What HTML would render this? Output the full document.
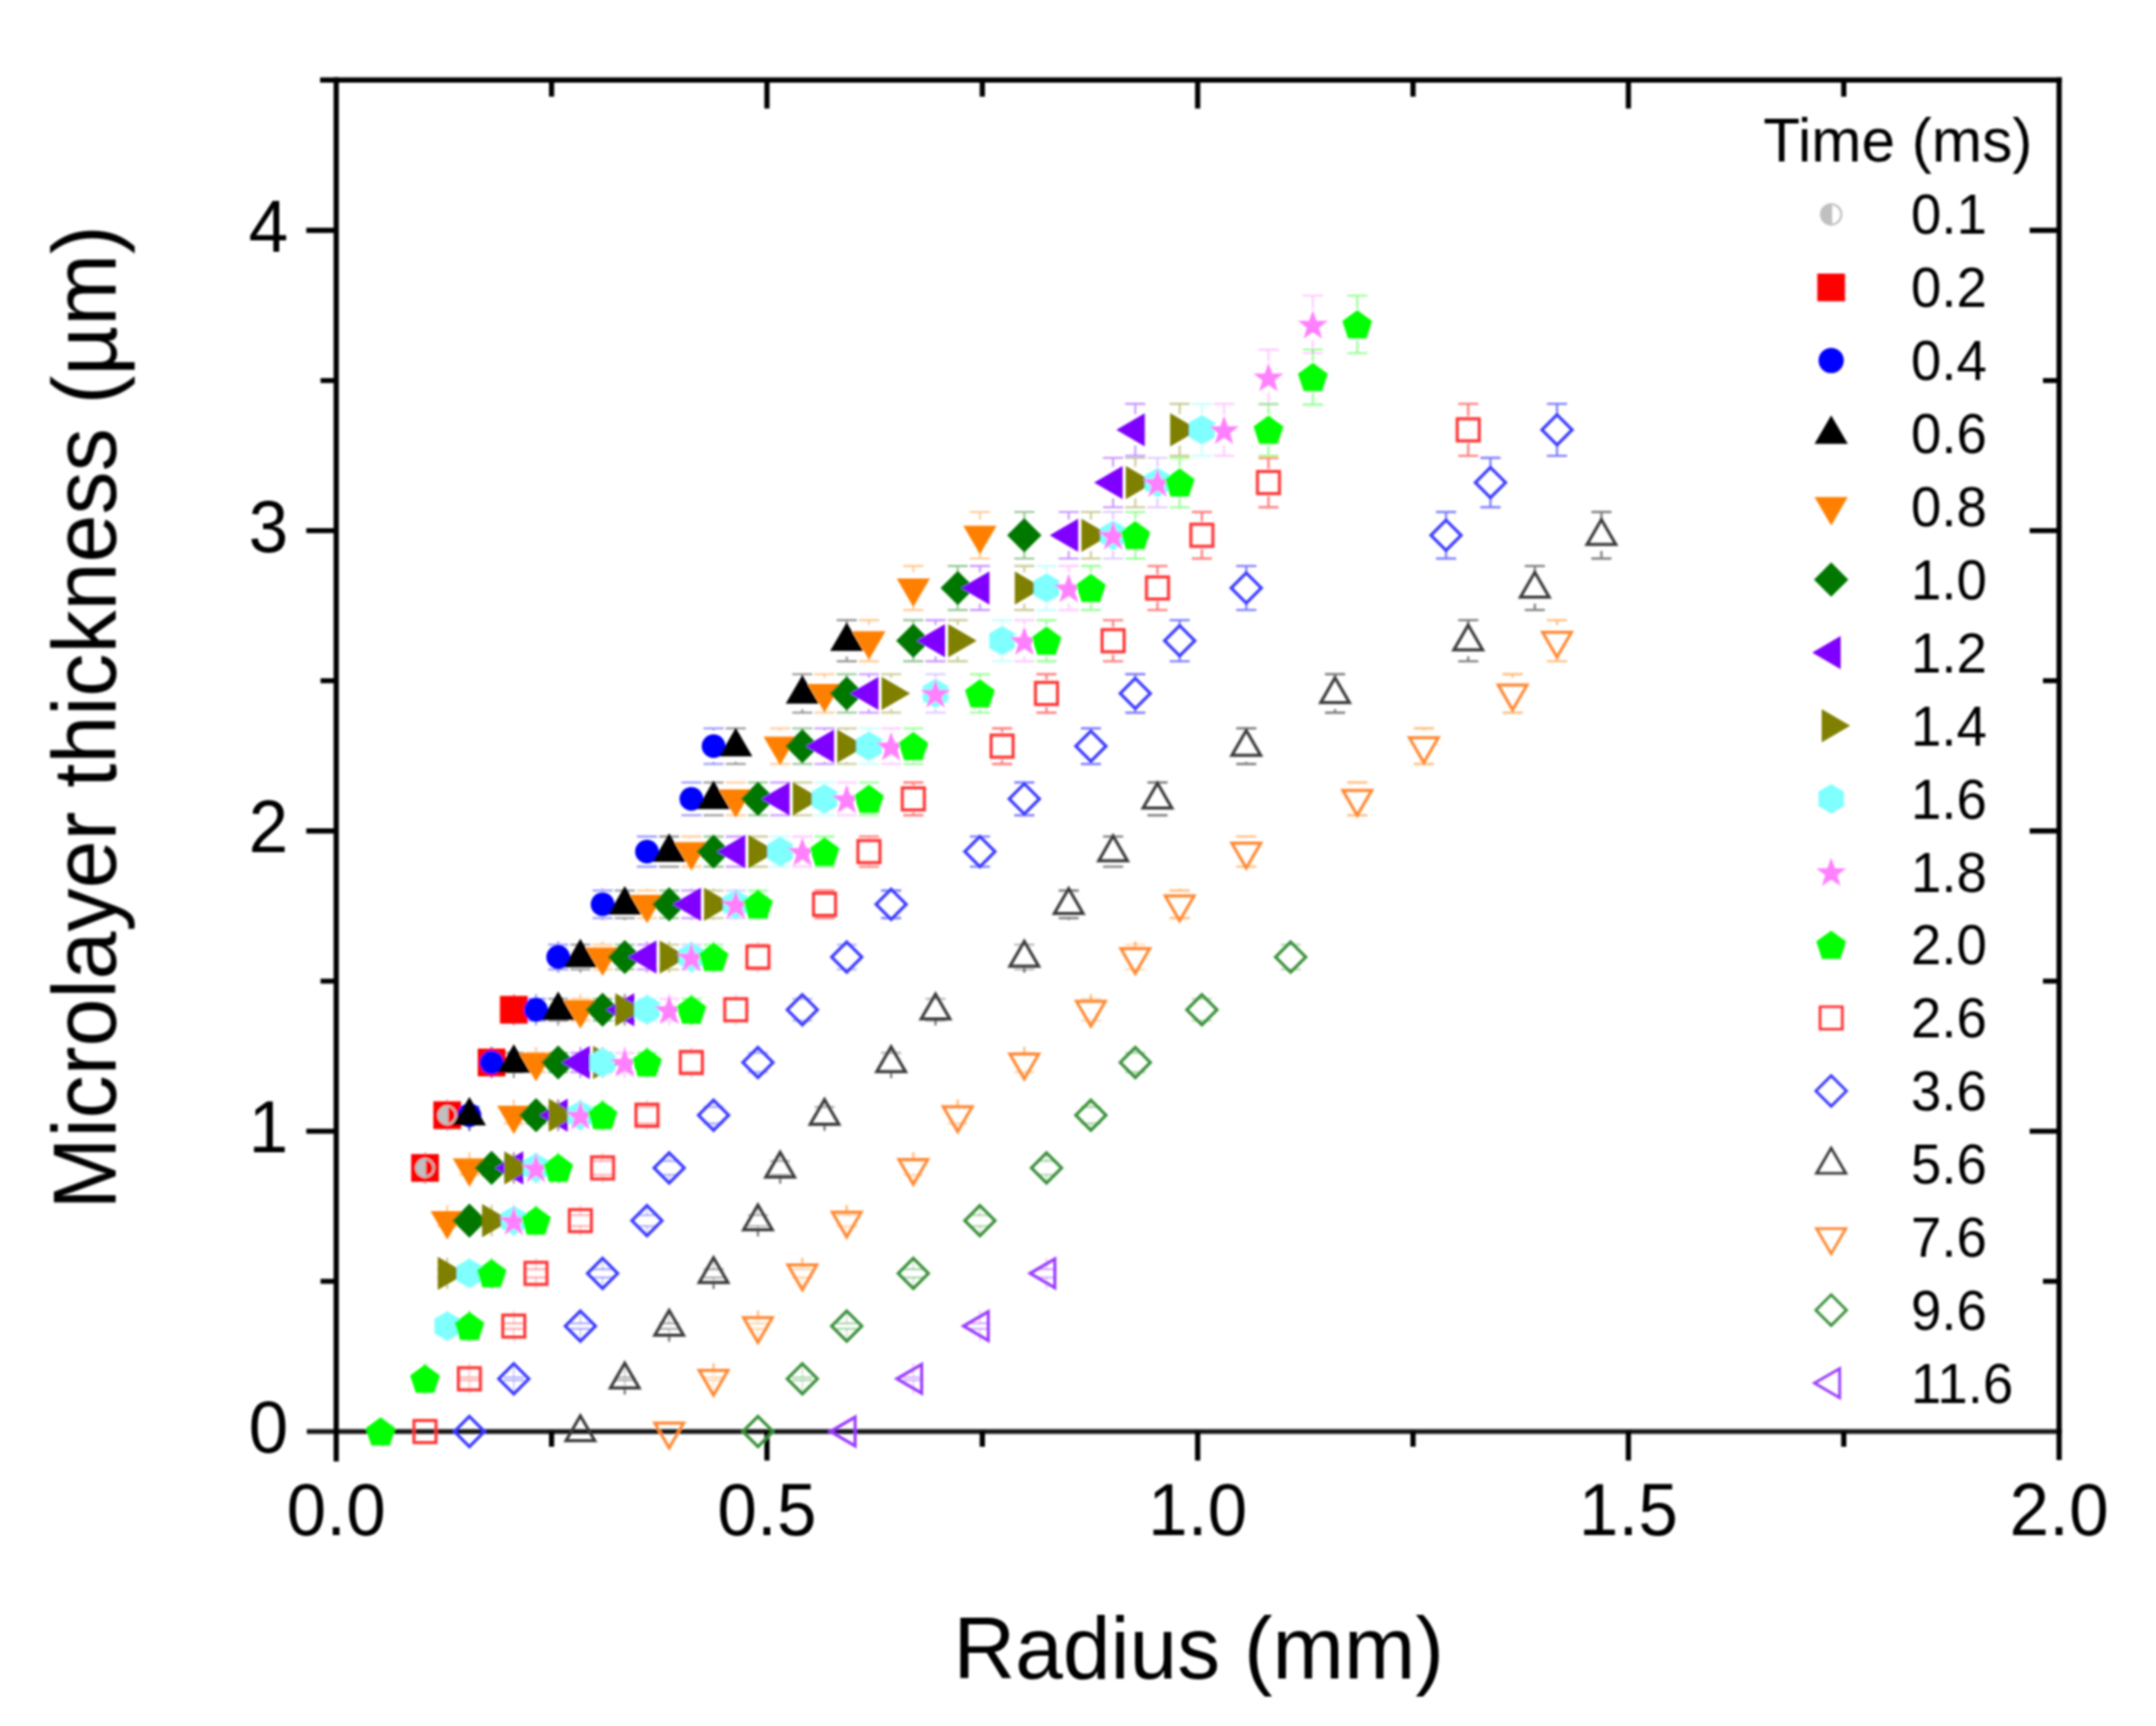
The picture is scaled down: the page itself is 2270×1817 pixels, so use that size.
<!DOCTYPE html>
<html lang="en"><head><meta charset="utf-8"><title>Microlayer thickness vs radius</title>
<style>html,body{margin:0;padding:0;background:#fff}svg{display:block}text{font-family:"Liberation Sans",sans-serif;fill:#000}</style></head><body>
<svg width="2270" height="1817" viewBox="0 0 2270 1817">
<defs><filter id="b" x="-2%" y="-2%" width="104%" height="104%"><feGaussianBlur stdDeviation="1.15"/></filter></defs>
<rect width="2270" height="1817" fill="#fff"/>
<g filter="url(#b)">
<g stroke="#000" fill="none" stroke-linecap="butt">
<path stroke-width="5.6" d="M337 84.2H2170.8"/>
<path stroke-width="5.2" stroke="#161616" d="M323 1507H2170.8"/>
<path stroke-width="5.5" d="M354 81.4V1538.5 M2168 81.4V1537"/>
<path stroke-width="5.5" d="M580.75 1507V1523 M580.75 84.2V101.7 M807.5 1507V1537.5 M807.5 84.2V114.2 M1034.25 1507V1523 M1034.25 84.2V101.7 M1261 1507V1537.5 M1261 84.2V114.2 M1487.75 1507V1523 M1487.75 84.2V101.7 M1714.5 1507V1537.5 M1714.5 84.2V114.2 M1941.25 1507V1523 M1941.25 84.2V101.7"/>
<path stroke-width="5.3" d="M354 1348.94H337.5 M2168 1348.94H2151 M354 1190.88H322.5 M2168 1190.88H2137 M354 1032.81H337.5 M2168 1032.81H2151 M354 874.75H322.5 M2168 874.75H2137 M354 716.69H337.5 M2168 716.69H2151 M354 558.62H322.5 M2168 558.62H2137 M354 400.56H337.5 M2168 400.56H2151 M354 242.5H322.5 M2168 242.5H2137"/>
</g>
<g font-size="75">
<text transform="translate(354 1616.5) scale(1 1.035)" text-anchor="middle">0.0</text>
<text transform="translate(807.5 1616.5) scale(1 1.035)" text-anchor="middle">0.5</text>
<text transform="translate(1261 1616.5) scale(1 1.035)" text-anchor="middle">1.0</text>
<text transform="translate(1714.5 1616.5) scale(1 1.035)" text-anchor="middle">1.5</text>
<text transform="translate(2168 1616.5) scale(1 1.035)" text-anchor="middle">2.0</text>
<text transform="translate(303.5 1529) scale(1 1.035)" text-anchor="end">0</text>
<text transform="translate(303.5 1212.88) scale(1 1.035)" text-anchor="end">1</text>
<text transform="translate(303.5 896.75) scale(1 1.035)" text-anchor="end">2</text>
<text transform="translate(303.5 580.62) scale(1 1.035)" text-anchor="end">3</text>
<text transform="translate(303.5 264.5) scale(1 1.035)" text-anchor="end">4</text>
</g>
<text transform="translate(1262 1766.8) scale(1 1.035)" font-size="90.3" text-anchor="middle">Radius (mm)</text>
<text transform="translate(121.7 755.2) rotate(-90) scale(1 1.035)" font-size="90.8" text-anchor="middle">Microlayer thickness (µm)</text>
<g><path d="M436.88 1222.29H458.08 M436.88 1236.71H458.08 M447.48 1213V1222.29 M447.48 1246V1236.71" stroke="#ff0000" stroke-width="2.1" stroke-opacity="0.42" fill="none"/><path d="M460.25 1165.34H481.45 M460.25 1182.66H481.45 M470.85 1157.5V1165.34 M470.85 1190.5V1182.66" stroke="#ff0000" stroke-width="2.1" stroke-opacity="0.42" fill="none"/><path d="M506.99 1108.4H528.19 M506.99 1128.6H528.19 M517.59 1102V1108.4 M517.59 1135V1128.6" stroke="#ff0000" stroke-width="2.1" stroke-opacity="0.42" fill="none"/><path d="M530.36 1051.46H551.56 M530.36 1074.54H551.56 M540.96 1046.5V1051.46 M540.96 1079.5V1074.54" stroke="#ff0000" stroke-width="2.1" stroke-opacity="0.42" fill="none"/><path d="M436.88 1222.29H458.08 M436.88 1236.71H458.08 M447.48 1213V1222.29 M447.48 1246V1236.71" stroke="#c0c0c0" stroke-width="2.1" stroke-opacity="0.42" fill="none"/><path d="M460.25 1165.34H481.45 M460.25 1182.66H481.45 M470.85 1157.5V1165.34 M470.85 1190.5V1182.66" stroke="#c0c0c0" stroke-width="2.1" stroke-opacity="0.42" fill="none"/><path d="M483.62 1165.34H504.82 M483.62 1182.66H504.82 M494.22 1157.5V1165.34 M494.22 1190.5V1182.66" stroke="#0000ff" stroke-width="2.1" stroke-opacity="0.42" fill="none"/><path d="M506.99 1108.4H528.19 M506.99 1128.6H528.19 M517.59 1102V1108.4 M517.59 1135V1128.6" stroke="#0000ff" stroke-width="2.1" stroke-opacity="0.42" fill="none"/><path d="M553.73 1051.46H574.93 M553.73 1074.54H574.93 M564.33 1046.5V1051.46 M564.33 1079.5V1074.54" stroke="#0000ff" stroke-width="2.1" stroke-opacity="0.42" fill="none"/><path d="M577.1 994.51H598.3 M577.1 1020.49H598.3 M587.7 991V994.51 M587.7 1024V1020.49" stroke="#0000ff" stroke-width="2.1" stroke-opacity="0.42" fill="none"/><path d="M623.84 937.57H645.04 M623.84 966.43H645.04 M634.44 935.5V937.57 M634.44 968.5V966.43" stroke="#0000ff" stroke-width="2.1" stroke-opacity="0.42" fill="none"/><path d="M670.58 880.63H691.78 M670.58 912.37H691.78 M681.18 880V880.63 M681.18 913V912.37" stroke="#0000ff" stroke-width="2.1" stroke-opacity="0.42" fill="none"/><path d="M717.32 823.68H738.52 M717.32 858.32H738.52 M727.92 824.5V823.68 M727.92 857.5V858.32" stroke="#0000ff" stroke-width="2.1" stroke-opacity="0.42" fill="none"/><path d="M740.69 766.74H761.89 M740.69 804.26H761.89 M751.29 769V766.74 M751.29 802V804.26" stroke="#0000ff" stroke-width="2.1" stroke-opacity="0.42" fill="none"/><path d="M483.62 1165.34H504.82 M483.62 1182.66H504.82 M494.22 1157.5V1165.34 M494.22 1190.5V1182.66" stroke="#000000" stroke-width="2.1" stroke-opacity="0.42" fill="none"/><path d="M530.36 1108.4H551.56 M530.36 1128.6H551.56 M540.96 1102V1108.4 M540.96 1135V1128.6" stroke="#000000" stroke-width="2.1" stroke-opacity="0.42" fill="none"/><path d="M577.1 1051.46H598.3 M577.1 1074.54H598.3 M587.7 1046.5V1051.46 M587.7 1079.5V1074.54" stroke="#000000" stroke-width="2.1" stroke-opacity="0.42" fill="none"/><path d="M600.47 994.51H621.67 M600.47 1020.49H621.67 M611.07 991V994.51 M611.07 1024V1020.49" stroke="#000000" stroke-width="2.1" stroke-opacity="0.42" fill="none"/><path d="M647.21 937.57H668.41 M647.21 966.43H668.41 M657.81 935.5V937.57 M657.81 968.5V966.43" stroke="#000000" stroke-width="2.1" stroke-opacity="0.42" fill="none"/><path d="M693.95 880.63H715.15 M693.95 912.37H715.15 M704.55 880V880.63 M704.55 913V912.37" stroke="#000000" stroke-width="2.1" stroke-opacity="0.42" fill="none"/><path d="M740.69 823.68H761.89 M740.69 858.32H761.89 M751.29 824.5V823.68 M751.29 857.5V858.32" stroke="#000000" stroke-width="2.1" stroke-opacity="0.42" fill="none"/><path d="M764.06 766.74H785.26 M764.06 804.26H785.26 M774.66 769V766.74 M774.66 802V804.26" stroke="#000000" stroke-width="2.1" stroke-opacity="0.42" fill="none"/><path d="M834.17 709.8H855.37 M834.17 750.2H855.37 M844.77 713.5V709.8 M844.77 746.5V750.2" stroke="#000000" stroke-width="2.1" stroke-opacity="0.42" fill="none"/><path d="M880.91 652.86H902.11 M880.91 696.14H902.11 M891.51 658V652.86 M891.51 691V696.14" stroke="#000000" stroke-width="2.1" stroke-opacity="0.42" fill="none"/><path d="M460.25 1279.23H481.45 M460.25 1290.77H481.45 M470.85 1268.5V1279.23 M470.85 1301.5V1290.77" stroke="#ff8000" stroke-width="2.1" stroke-opacity="0.42" fill="none"/><path d="M483.62 1222.29H504.82 M483.62 1236.71H504.82 M494.22 1213V1222.29 M494.22 1246V1236.71" stroke="#ff8000" stroke-width="2.1" stroke-opacity="0.42" fill="none"/><path d="M530.36 1165.34H551.56 M530.36 1182.66H551.56 M540.96 1157.5V1165.34 M540.96 1190.5V1182.66" stroke="#ff8000" stroke-width="2.1" stroke-opacity="0.42" fill="none"/><path d="M553.73 1108.4H574.93 M553.73 1128.6H574.93 M564.33 1102V1108.4 M564.33 1135V1128.6" stroke="#ff8000" stroke-width="2.1" stroke-opacity="0.42" fill="none"/><path d="M600.47 1051.46H621.67 M600.47 1074.54H621.67 M611.07 1046.5V1051.46 M611.07 1079.5V1074.54" stroke="#ff8000" stroke-width="2.1" stroke-opacity="0.42" fill="none"/><path d="M623.84 994.51H645.04 M623.84 1020.49H645.04 M634.44 991V994.51 M634.44 1024V1020.49" stroke="#ff8000" stroke-width="2.1" stroke-opacity="0.42" fill="none"/><path d="M670.58 937.57H691.78 M670.58 966.43H691.78 M681.18 935.5V937.57 M681.18 968.5V966.43" stroke="#ff8000" stroke-width="2.1" stroke-opacity="0.42" fill="none"/><path d="M717.32 880.63H738.52 M717.32 912.37H738.52 M727.92 880V880.63 M727.92 913V912.37" stroke="#ff8000" stroke-width="2.1" stroke-opacity="0.42" fill="none"/><path d="M764.06 823.68H785.26 M764.06 858.32H785.26 M774.66 824.5V823.68 M774.66 857.5V858.32" stroke="#ff8000" stroke-width="2.1" stroke-opacity="0.42" fill="none"/><path d="M810.8 766.74H832 M810.8 804.26H832 M821.4 769V766.74 M821.4 802V804.26" stroke="#ff8000" stroke-width="2.1" stroke-opacity="0.42" fill="none"/><path d="M857.54 709.8H878.74 M857.54 750.2H878.74 M868.14 713.5V709.8 M868.14 746.5V750.2" stroke="#ff8000" stroke-width="2.1" stroke-opacity="0.42" fill="none"/><path d="M904.28 652.86H925.48 M904.28 696.14H925.48 M914.88 658V652.86 M914.88 691V696.14" stroke="#ff8000" stroke-width="2.1" stroke-opacity="0.42" fill="none"/><path d="M951.02 595.91H972.22 M951.02 642.09H972.22 M961.62 602.5V595.91 M961.62 635.5V642.09" stroke="#ff8000" stroke-width="2.1" stroke-opacity="0.42" fill="none"/><path d="M1021.13 538.97H1042.33 M1021.13 588.03H1042.33 M1031.73 547V538.97 M1031.73 580V588.03" stroke="#ff8000" stroke-width="2.1" stroke-opacity="0.42" fill="none"/><path d="M483.62 1279.23H504.82 M483.62 1290.77H504.82 M494.22 1268.5V1279.23 M494.22 1301.5V1290.77" stroke="#007800" stroke-width="2.1" stroke-opacity="0.42" fill="none"/><path d="M506.99 1222.29H528.19 M506.99 1236.71H528.19 M517.59 1213V1222.29 M517.59 1246V1236.71" stroke="#007800" stroke-width="2.1" stroke-opacity="0.42" fill="none"/><path d="M553.73 1165.34H574.93 M553.73 1182.66H574.93 M564.33 1157.5V1165.34 M564.33 1190.5V1182.66" stroke="#007800" stroke-width="2.1" stroke-opacity="0.42" fill="none"/><path d="M577.1 1108.4H598.3 M577.1 1128.6H598.3 M587.7 1102V1108.4 M587.7 1135V1128.6" stroke="#007800" stroke-width="2.1" stroke-opacity="0.42" fill="none"/><path d="M623.84 1051.46H645.04 M623.84 1074.54H645.04 M634.44 1046.5V1051.46 M634.44 1079.5V1074.54" stroke="#007800" stroke-width="2.1" stroke-opacity="0.42" fill="none"/><path d="M647.21 994.51H668.41 M647.21 1020.49H668.41 M657.81 991V994.51 M657.81 1024V1020.49" stroke="#007800" stroke-width="2.1" stroke-opacity="0.42" fill="none"/><path d="M693.95 937.57H715.15 M693.95 966.43H715.15 M704.55 935.5V937.57 M704.55 968.5V966.43" stroke="#007800" stroke-width="2.1" stroke-opacity="0.42" fill="none"/><path d="M740.69 880.63H761.89 M740.69 912.37H761.89 M751.29 880V880.63 M751.29 913V912.37" stroke="#007800" stroke-width="2.1" stroke-opacity="0.42" fill="none"/><path d="M787.43 823.68H808.63 M787.43 858.32H808.63 M798.03 824.5V823.68 M798.03 857.5V858.32" stroke="#007800" stroke-width="2.1" stroke-opacity="0.42" fill="none"/><path d="M834.17 766.74H855.37 M834.17 804.26H855.37 M844.77 769V766.74 M844.77 802V804.26" stroke="#007800" stroke-width="2.1" stroke-opacity="0.42" fill="none"/><path d="M880.91 709.8H902.11 M880.91 750.2H902.11 M891.51 713.5V709.8 M891.51 746.5V750.2" stroke="#007800" stroke-width="2.1" stroke-opacity="0.42" fill="none"/><path d="M951.02 652.86H972.22 M951.02 696.14H972.22 M961.62 658V652.86 M961.62 691V696.14" stroke="#007800" stroke-width="2.1" stroke-opacity="0.42" fill="none"/><path d="M997.76 595.91H1018.96 M997.76 642.09H1018.96 M1008.36 602.5V595.91 M1008.36 635.5V642.09" stroke="#007800" stroke-width="2.1" stroke-opacity="0.42" fill="none"/><path d="M1067.87 538.97H1089.07 M1067.87 588.03H1089.07 M1078.47 547V538.97 M1078.47 580V588.03" stroke="#007800" stroke-width="2.1" stroke-opacity="0.42" fill="none"/><path d="M530.36 1222.29H551.56 M530.36 1236.71H551.56 M540.96 1213V1222.29 M540.96 1246V1236.71" stroke="#8000ff" stroke-width="2.1" stroke-opacity="0.42" fill="none"/><path d="M577.1 1165.34H598.3 M577.1 1182.66H598.3 M587.7 1157.5V1165.34 M587.7 1190.5V1182.66" stroke="#8000ff" stroke-width="2.1" stroke-opacity="0.42" fill="none"/><path d="M600.47 1108.4H621.67 M600.47 1128.6H621.67 M611.07 1102V1108.4 M611.07 1135V1128.6" stroke="#8000ff" stroke-width="2.1" stroke-opacity="0.42" fill="none"/><path d="M647.21 1051.46H668.41 M647.21 1074.54H668.41 M657.81 1046.5V1051.46 M657.81 1079.5V1074.54" stroke="#8000ff" stroke-width="2.1" stroke-opacity="0.42" fill="none"/><path d="M670.58 994.51H691.78 M670.58 1020.49H691.78 M681.18 991V994.51 M681.18 1024V1020.49" stroke="#8000ff" stroke-width="2.1" stroke-opacity="0.42" fill="none"/><path d="M717.32 937.57H738.52 M717.32 966.43H738.52 M727.92 935.5V937.57 M727.92 968.5V966.43" stroke="#8000ff" stroke-width="2.1" stroke-opacity="0.42" fill="none"/><path d="M764.06 880.63H785.26 M764.06 912.37H785.26 M774.66 880V880.63 M774.66 913V912.37" stroke="#8000ff" stroke-width="2.1" stroke-opacity="0.42" fill="none"/><path d="M810.8 823.68H832 M810.8 858.32H832 M821.4 824.5V823.68 M821.4 857.5V858.32" stroke="#8000ff" stroke-width="2.1" stroke-opacity="0.42" fill="none"/><path d="M857.54 766.74H878.74 M857.54 804.26H878.74 M868.14 769V766.74 M868.14 802V804.26" stroke="#8000ff" stroke-width="2.1" stroke-opacity="0.42" fill="none"/><path d="M904.28 709.8H925.48 M904.28 750.2H925.48 M914.88 713.5V709.8 M914.88 746.5V750.2" stroke="#8000ff" stroke-width="2.1" stroke-opacity="0.42" fill="none"/><path d="M974.39 652.86H995.59 M974.39 696.14H995.59 M984.99 658V652.86 M984.99 691V696.14" stroke="#8000ff" stroke-width="2.1" stroke-opacity="0.42" fill="none"/><path d="M1021.13 595.91H1042.33 M1021.13 642.09H1042.33 M1031.73 602.5V595.91 M1031.73 635.5V642.09" stroke="#8000ff" stroke-width="2.1" stroke-opacity="0.42" fill="none"/><path d="M1114.61 538.97H1135.81 M1114.61 588.03H1135.81 M1125.21 547V538.97 M1125.21 580V588.03" stroke="#8000ff" stroke-width="2.1" stroke-opacity="0.42" fill="none"/><path d="M1161.35 482.03H1182.55 M1161.35 533.97H1182.55 M1171.95 491.5V482.03 M1171.95 524.5V533.97" stroke="#8000ff" stroke-width="2.1" stroke-opacity="0.42" fill="none"/><path d="M1184.72 425.08H1205.92 M1184.72 479.92H1205.92 M1195.32 436V425.08 M1195.32 469V479.92" stroke="#8000ff" stroke-width="2.1" stroke-opacity="0.42" fill="none"/><path d="M460.25 1336.17H481.45 M460.25 1344.83H481.45 M470.85 1324V1336.17 M470.85 1357V1344.83" stroke="#808000" stroke-width="2.1" stroke-opacity="0.42" fill="none"/><path d="M506.99 1279.23H528.19 M506.99 1290.77H528.19 M517.59 1268.5V1279.23 M517.59 1301.5V1290.77" stroke="#808000" stroke-width="2.1" stroke-opacity="0.42" fill="none"/><path d="M530.36 1222.29H551.56 M530.36 1236.71H551.56 M540.96 1213V1222.29 M540.96 1246V1236.71" stroke="#808000" stroke-width="2.1" stroke-opacity="0.42" fill="none"/><path d="M577.1 1165.34H598.3 M577.1 1182.66H598.3 M587.7 1157.5V1165.34 M587.7 1190.5V1182.66" stroke="#808000" stroke-width="2.1" stroke-opacity="0.42" fill="none"/><path d="M623.84 1108.4H645.04 M623.84 1128.6H645.04 M634.44 1102V1108.4 M634.44 1135V1128.6" stroke="#808000" stroke-width="2.1" stroke-opacity="0.42" fill="none"/><path d="M647.21 1051.46H668.41 M647.21 1074.54H668.41 M657.81 1046.5V1051.46 M657.81 1079.5V1074.54" stroke="#808000" stroke-width="2.1" stroke-opacity="0.42" fill="none"/><path d="M693.95 994.51H715.15 M693.95 1020.49H715.15 M704.55 991V994.51 M704.55 1024V1020.49" stroke="#808000" stroke-width="2.1" stroke-opacity="0.42" fill="none"/><path d="M740.69 937.57H761.89 M740.69 966.43H761.89 M751.29 935.5V937.57 M751.29 968.5V966.43" stroke="#808000" stroke-width="2.1" stroke-opacity="0.42" fill="none"/><path d="M787.43 880.63H808.63 M787.43 912.37H808.63 M798.03 880V880.63 M798.03 913V912.37" stroke="#808000" stroke-width="2.1" stroke-opacity="0.42" fill="none"/><path d="M834.17 823.68H855.37 M834.17 858.32H855.37 M844.77 824.5V823.68 M844.77 857.5V858.32" stroke="#808000" stroke-width="2.1" stroke-opacity="0.42" fill="none"/><path d="M880.91 766.74H902.11 M880.91 804.26H902.11 M891.51 769V766.74 M891.51 802V804.26" stroke="#808000" stroke-width="2.1" stroke-opacity="0.42" fill="none"/><path d="M927.65 709.8H948.85 M927.65 750.2H948.85 M938.25 713.5V709.8 M938.25 746.5V750.2" stroke="#808000" stroke-width="2.1" stroke-opacity="0.42" fill="none"/><path d="M997.76 652.86H1018.96 M997.76 696.14H1018.96 M1008.36 658V652.86 M1008.36 691V696.14" stroke="#808000" stroke-width="2.1" stroke-opacity="0.42" fill="none"/><path d="M1067.87 595.91H1089.07 M1067.87 642.09H1089.07 M1078.47 602.5V595.91 M1078.47 635.5V642.09" stroke="#808000" stroke-width="2.1" stroke-opacity="0.42" fill="none"/><path d="M1137.98 538.97H1159.18 M1137.98 588.03H1159.18 M1148.58 547V538.97 M1148.58 580V588.03" stroke="#808000" stroke-width="2.1" stroke-opacity="0.42" fill="none"/><path d="M1184.72 482.03H1205.92 M1184.72 533.97H1205.92 M1195.32 491.5V482.03 M1195.32 524.5V533.97" stroke="#808000" stroke-width="2.1" stroke-opacity="0.42" fill="none"/><path d="M1231.46 425.08H1252.66 M1231.46 479.92H1252.66 M1242.06 436V425.08 M1242.06 469V479.92" stroke="#808000" stroke-width="2.1" stroke-opacity="0.42" fill="none"/><path d="M460.25 1393.11H481.45 M460.25 1398.89H481.45 M470.85 1379.5V1393.11 M470.85 1412.5V1398.89" stroke="#80ffff" stroke-width="2.1" stroke-opacity="0.42" fill="none"/><path d="M483.62 1336.17H504.82 M483.62 1344.83H504.82 M494.22 1324V1336.17 M494.22 1357V1344.83" stroke="#80ffff" stroke-width="2.1" stroke-opacity="0.42" fill="none"/><path d="M530.36 1279.23H551.56 M530.36 1290.77H551.56 M540.96 1268.5V1279.23 M540.96 1301.5V1290.77" stroke="#80ffff" stroke-width="2.1" stroke-opacity="0.42" fill="none"/><path d="M553.73 1222.29H574.93 M553.73 1236.71H574.93 M564.33 1213V1222.29 M564.33 1246V1236.71" stroke="#80ffff" stroke-width="2.1" stroke-opacity="0.42" fill="none"/><path d="M600.47 1165.34H621.67 M600.47 1182.66H621.67 M611.07 1157.5V1165.34 M611.07 1190.5V1182.66" stroke="#80ffff" stroke-width="2.1" stroke-opacity="0.42" fill="none"/><path d="M623.84 1108.4H645.04 M623.84 1128.6H645.04 M634.44 1102V1108.4 M634.44 1135V1128.6" stroke="#80ffff" stroke-width="2.1" stroke-opacity="0.42" fill="none"/><path d="M670.58 1051.46H691.78 M670.58 1074.54H691.78 M681.18 1046.5V1051.46 M681.18 1079.5V1074.54" stroke="#80ffff" stroke-width="2.1" stroke-opacity="0.42" fill="none"/><path d="M717.32 994.51H738.52 M717.32 1020.49H738.52 M727.92 991V994.51 M727.92 1024V1020.49" stroke="#80ffff" stroke-width="2.1" stroke-opacity="0.42" fill="none"/><path d="M764.06 937.57H785.26 M764.06 966.43H785.26 M774.66 935.5V937.57 M774.66 968.5V966.43" stroke="#80ffff" stroke-width="2.1" stroke-opacity="0.42" fill="none"/><path d="M810.8 880.63H832 M810.8 912.37H832 M821.4 880V880.63 M821.4 913V912.37" stroke="#80ffff" stroke-width="2.1" stroke-opacity="0.42" fill="none"/><path d="M857.54 823.68H878.74 M857.54 858.32H878.74 M868.14 824.5V823.68 M868.14 857.5V858.32" stroke="#80ffff" stroke-width="2.1" stroke-opacity="0.42" fill="none"/><path d="M904.28 766.74H925.48 M904.28 804.26H925.48 M914.88 769V766.74 M914.88 802V804.26" stroke="#80ffff" stroke-width="2.1" stroke-opacity="0.42" fill="none"/><path d="M974.39 709.8H995.59 M974.39 750.2H995.59 M984.99 713.5V709.8 M984.99 746.5V750.2" stroke="#80ffff" stroke-width="2.1" stroke-opacity="0.42" fill="none"/><path d="M1044.5 652.86H1065.7 M1044.5 696.14H1065.7 M1055.1 658V652.86 M1055.1 691V696.14" stroke="#80ffff" stroke-width="2.1" stroke-opacity="0.42" fill="none"/><path d="M1091.24 595.91H1112.44 M1091.24 642.09H1112.44 M1101.84 602.5V595.91 M1101.84 635.5V642.09" stroke="#80ffff" stroke-width="2.1" stroke-opacity="0.42" fill="none"/><path d="M1161.35 538.97H1182.55 M1161.35 588.03H1182.55 M1171.95 547V538.97 M1171.95 580V588.03" stroke="#80ffff" stroke-width="2.1" stroke-opacity="0.42" fill="none"/><path d="M1208.09 482.03H1229.29 M1208.09 533.97H1229.29 M1218.69 491.5V482.03 M1218.69 524.5V533.97" stroke="#80ffff" stroke-width="2.1" stroke-opacity="0.42" fill="none"/><path d="M1254.83 425.08H1276.03 M1254.83 479.92H1276.03 M1265.43 436V425.08 M1265.43 469V479.92" stroke="#80ffff" stroke-width="2.1" stroke-opacity="0.42" fill="none"/><path d="M530.36 1279.23H551.56 M530.36 1290.77H551.56 M540.96 1268.5V1279.23 M540.96 1301.5V1290.77" stroke="#ff80ff" stroke-width="2.1" stroke-opacity="0.42" fill="none"/><path d="M553.73 1222.29H574.93 M553.73 1236.71H574.93 M564.33 1213V1222.29 M564.33 1246V1236.71" stroke="#ff80ff" stroke-width="2.1" stroke-opacity="0.42" fill="none"/><path d="M600.47 1165.34H621.67 M600.47 1182.66H621.67 M611.07 1157.5V1165.34 M611.07 1190.5V1182.66" stroke="#ff80ff" stroke-width="2.1" stroke-opacity="0.42" fill="none"/><path d="M647.21 1108.4H668.41 M647.21 1128.6H668.41 M657.81 1102V1108.4 M657.81 1135V1128.6" stroke="#ff80ff" stroke-width="2.1" stroke-opacity="0.42" fill="none"/><path d="M693.95 1051.46H715.15 M693.95 1074.54H715.15 M704.55 1046.5V1051.46 M704.55 1079.5V1074.54" stroke="#ff80ff" stroke-width="2.1" stroke-opacity="0.42" fill="none"/><path d="M717.32 994.51H738.52 M717.32 1020.49H738.52 M727.92 991V994.51 M727.92 1024V1020.49" stroke="#ff80ff" stroke-width="2.1" stroke-opacity="0.42" fill="none"/><path d="M764.06 937.57H785.26 M764.06 966.43H785.26 M774.66 935.5V937.57 M774.66 968.5V966.43" stroke="#ff80ff" stroke-width="2.1" stroke-opacity="0.42" fill="none"/><path d="M834.17 880.63H855.37 M834.17 912.37H855.37 M844.77 880V880.63 M844.77 913V912.37" stroke="#ff80ff" stroke-width="2.1" stroke-opacity="0.42" fill="none"/><path d="M880.91 823.68H902.11 M880.91 858.32H902.11 M891.51 824.5V823.68 M891.51 857.5V858.32" stroke="#ff80ff" stroke-width="2.1" stroke-opacity="0.42" fill="none"/><path d="M927.65 766.74H948.85 M927.65 804.26H948.85 M938.25 769V766.74 M938.25 802V804.26" stroke="#ff80ff" stroke-width="2.1" stroke-opacity="0.42" fill="none"/><path d="M974.39 709.8H995.59 M974.39 750.2H995.59 M984.99 713.5V709.8 M984.99 746.5V750.2" stroke="#ff80ff" stroke-width="2.1" stroke-opacity="0.42" fill="none"/><path d="M1067.87 652.86H1089.07 M1067.87 696.14H1089.07 M1078.47 658V652.86 M1078.47 691V696.14" stroke="#ff80ff" stroke-width="2.1" stroke-opacity="0.42" fill="none"/><path d="M1114.61 595.91H1135.81 M1114.61 642.09H1135.81 M1125.21 602.5V595.91 M1125.21 635.5V642.09" stroke="#ff80ff" stroke-width="2.1" stroke-opacity="0.42" fill="none"/><path d="M1161.35 538.97H1182.55 M1161.35 588.03H1182.55 M1171.95 547V538.97 M1171.95 580V588.03" stroke="#ff80ff" stroke-width="2.1" stroke-opacity="0.42" fill="none"/><path d="M1208.09 482.03H1229.29 M1208.09 533.97H1229.29 M1218.69 491.5V482.03 M1218.69 524.5V533.97" stroke="#ff80ff" stroke-width="2.1" stroke-opacity="0.42" fill="none"/><path d="M1278.2 425.08H1299.4 M1278.2 479.92H1299.4 M1288.8 436V425.08 M1288.8 469V479.92" stroke="#ff80ff" stroke-width="2.1" stroke-opacity="0.42" fill="none"/><path d="M1324.94 368.14H1346.14 M1324.94 425.86H1346.14 M1335.54 380.5V368.14 M1335.54 413.5V425.86" stroke="#ff80ff" stroke-width="2.1" stroke-opacity="0.42" fill="none"/><path d="M1371.68 311.2H1392.88 M1371.68 371.8H1392.88 M1382.28 325V311.2 M1382.28 358V371.8" stroke="#ff80ff" stroke-width="2.1" stroke-opacity="0.42" fill="none"/><path d="M436.88 1450.06H458.08 M436.88 1452.94H458.08 M447.48 1435V1450.06 M447.48 1468V1452.94" stroke="#00ff00" stroke-width="2.1" stroke-opacity="0.42" fill="none"/><path d="M483.62 1393.11H504.82 M483.62 1398.89H504.82 M494.22 1379.5V1393.11 M494.22 1412.5V1398.89" stroke="#00ff00" stroke-width="2.1" stroke-opacity="0.42" fill="none"/><path d="M506.99 1336.17H528.19 M506.99 1344.83H528.19 M517.59 1324V1336.17 M517.59 1357V1344.83" stroke="#00ff00" stroke-width="2.1" stroke-opacity="0.42" fill="none"/><path d="M553.73 1279.23H574.93 M553.73 1290.77H574.93 M564.33 1268.5V1279.23 M564.33 1301.5V1290.77" stroke="#00ff00" stroke-width="2.1" stroke-opacity="0.42" fill="none"/><path d="M577.1 1222.29H598.3 M577.1 1236.71H598.3 M587.7 1213V1222.29 M587.7 1246V1236.71" stroke="#00ff00" stroke-width="2.1" stroke-opacity="0.42" fill="none"/><path d="M623.84 1165.34H645.04 M623.84 1182.66H645.04 M634.44 1157.5V1165.34 M634.44 1190.5V1182.66" stroke="#00ff00" stroke-width="2.1" stroke-opacity="0.42" fill="none"/><path d="M670.58 1108.4H691.78 M670.58 1128.6H691.78 M681.18 1102V1108.4 M681.18 1135V1128.6" stroke="#00ff00" stroke-width="2.1" stroke-opacity="0.42" fill="none"/><path d="M717.32 1051.46H738.52 M717.32 1074.54H738.52 M727.92 1046.5V1051.46 M727.92 1079.5V1074.54" stroke="#00ff00" stroke-width="2.1" stroke-opacity="0.42" fill="none"/><path d="M740.69 994.51H761.89 M740.69 1020.49H761.89 M751.29 991V994.51 M751.29 1024V1020.49" stroke="#00ff00" stroke-width="2.1" stroke-opacity="0.42" fill="none"/><path d="M787.43 937.57H808.63 M787.43 966.43H808.63 M798.03 935.5V937.57 M798.03 968.5V966.43" stroke="#00ff00" stroke-width="2.1" stroke-opacity="0.42" fill="none"/><path d="M857.54 880.63H878.74 M857.54 912.37H878.74 M868.14 880V880.63 M868.14 913V912.37" stroke="#00ff00" stroke-width="2.1" stroke-opacity="0.42" fill="none"/><path d="M904.28 823.68H925.48 M904.28 858.32H925.48 M914.88 824.5V823.68 M914.88 857.5V858.32" stroke="#00ff00" stroke-width="2.1" stroke-opacity="0.42" fill="none"/><path d="M951.02 766.74H972.22 M951.02 804.26H972.22 M961.62 769V766.74 M961.62 802V804.26" stroke="#00ff00" stroke-width="2.1" stroke-opacity="0.42" fill="none"/><path d="M1021.13 709.8H1042.33 M1021.13 750.2H1042.33 M1031.73 713.5V709.8 M1031.73 746.5V750.2" stroke="#00ff00" stroke-width="2.1" stroke-opacity="0.42" fill="none"/><path d="M1091.24 652.86H1112.44 M1091.24 696.14H1112.44 M1101.84 658V652.86 M1101.84 691V696.14" stroke="#00ff00" stroke-width="2.1" stroke-opacity="0.42" fill="none"/><path d="M1137.98 595.91H1159.18 M1137.98 642.09H1159.18 M1148.58 602.5V595.91 M1148.58 635.5V642.09" stroke="#00ff00" stroke-width="2.1" stroke-opacity="0.42" fill="none"/><path d="M1184.72 538.97H1205.92 M1184.72 588.03H1205.92 M1195.32 547V538.97 M1195.32 580V588.03" stroke="#00ff00" stroke-width="2.1" stroke-opacity="0.42" fill="none"/><path d="M1231.46 482.03H1252.66 M1231.46 533.97H1252.66 M1242.06 491.5V482.03 M1242.06 524.5V533.97" stroke="#00ff00" stroke-width="2.1" stroke-opacity="0.42" fill="none"/><path d="M1324.94 425.08H1346.14 M1324.94 479.92H1346.14 M1335.54 436V425.08 M1335.54 469V479.92" stroke="#00ff00" stroke-width="2.1" stroke-opacity="0.42" fill="none"/><path d="M1371.68 368.14H1392.88 M1371.68 425.86H1392.88 M1382.28 380.5V368.14 M1382.28 413.5V425.86" stroke="#00ff00" stroke-width="2.1" stroke-opacity="0.42" fill="none"/><path d="M1418.42 311.2H1439.62 M1418.42 371.8H1439.62 M1429.02 325V311.2 M1429.02 358V371.8" stroke="#00ff00" stroke-width="2.1" stroke-opacity="0.42" fill="none"/><path d="M483.62 1450.06H504.82 M483.62 1452.94H504.82" stroke="#ff0000" stroke-width="2.1" stroke-opacity="0.3" fill="none"/><path d="M494.22 1435V1450.06 M494.22 1468V1452.94" stroke="#ff0000" stroke-width="2.1" stroke-opacity="0.16" fill="none"/><path d="M530.36 1393.11H551.56 M530.36 1398.89H551.56" stroke="#ff0000" stroke-width="2.1" stroke-opacity="0.3" fill="none"/><path d="M540.96 1379.5V1393.11 M540.96 1412.5V1398.89" stroke="#ff0000" stroke-width="2.1" stroke-opacity="0.16" fill="none"/><path d="M553.73 1336.17H574.93 M553.73 1344.83H574.93" stroke="#ff0000" stroke-width="2.1" stroke-opacity="0.3" fill="none"/><path d="M564.33 1324V1336.17 M564.33 1357V1344.83" stroke="#ff0000" stroke-width="2.1" stroke-opacity="0.16" fill="none"/><path d="M600.47 1279.23H621.67 M600.47 1290.77H621.67" stroke="#ff0000" stroke-width="2.1" stroke-opacity="0.3" fill="none"/><path d="M611.07 1268.5V1279.23 M611.07 1301.5V1290.77" stroke="#ff0000" stroke-width="2.1" stroke-opacity="0.16" fill="none"/><path d="M623.84 1222.29H645.04 M623.84 1236.71H645.04" stroke="#ff0000" stroke-width="2.1" stroke-opacity="0.3" fill="none"/><path d="M634.44 1213V1222.29 M634.44 1246V1236.71" stroke="#ff0000" stroke-width="2.1" stroke-opacity="0.16" fill="none"/><path d="M670.58 1165.34H691.78 M670.58 1182.66H691.78" stroke="#ff0000" stroke-width="2.1" stroke-opacity="0.3" fill="none"/><path d="M681.18 1157.5V1165.34 M681.18 1190.5V1182.66" stroke="#ff0000" stroke-width="2.1" stroke-opacity="0.16" fill="none"/><path d="M717.32 1108.4H738.52 M717.32 1128.6H738.52" stroke="#ff0000" stroke-width="2.1" stroke-opacity="0.3" fill="none"/><path d="M727.92 1102V1108.4 M727.92 1135V1128.6" stroke="#ff0000" stroke-width="2.1" stroke-opacity="0.16" fill="none"/><path d="M764.06 1051.46H785.26 M764.06 1074.54H785.26" stroke="#ff0000" stroke-width="2.1" stroke-opacity="0.3" fill="none"/><path d="M774.66 1046.5V1051.46 M774.66 1079.5V1074.54" stroke="#ff0000" stroke-width="2.1" stroke-opacity="0.16" fill="none"/><path d="M787.43 994.51H808.63 M787.43 1020.49H808.63" stroke="#ff0000" stroke-width="2.1" stroke-opacity="0.3" fill="none"/><path d="M798.03 991V994.51 M798.03 1024V1020.49" stroke="#ff0000" stroke-width="2.1" stroke-opacity="0.16" fill="none"/><path d="M857.54 937.57H878.74 M857.54 966.43H878.74 M868.14 937.8V937.57 M868.14 966.2V966.43" stroke="#ff0000" stroke-width="2.4" stroke-opacity="0.5" fill="none"/><path d="M904.28 880.63H925.48 M904.28 912.37H925.48 M914.88 882.3V880.63 M914.88 910.7V912.37" stroke="#ff0000" stroke-width="2.4" stroke-opacity="0.5" fill="none"/><path d="M951.02 823.68H972.22 M951.02 858.32H972.22 M961.62 826.8V823.68 M961.62 855.2V858.32" stroke="#ff0000" stroke-width="2.4" stroke-opacity="0.5" fill="none"/><path d="M1044.5 766.74H1065.7 M1044.5 804.26H1065.7 M1055.1 771.3V766.74 M1055.1 799.7V804.26" stroke="#ff0000" stroke-width="2.4" stroke-opacity="0.5" fill="none"/><path d="M1091.24 709.8H1112.44 M1091.24 750.2H1112.44 M1101.84 715.8V709.8 M1101.84 744.2V750.2" stroke="#ff0000" stroke-width="2.4" stroke-opacity="0.5" fill="none"/><path d="M1161.35 652.86H1182.55 M1161.35 696.14H1182.55 M1171.95 660.3V652.86 M1171.95 688.7V696.14" stroke="#ff0000" stroke-width="2.4" stroke-opacity="0.5" fill="none"/><path d="M1208.09 595.91H1229.29 M1208.09 642.09H1229.29 M1218.69 604.8V595.91 M1218.69 633.2V642.09" stroke="#ff0000" stroke-width="2.4" stroke-opacity="0.5" fill="none"/><path d="M1254.83 538.97H1276.03 M1254.83 588.03H1276.03 M1265.43 549.3V538.97 M1265.43 577.7V588.03" stroke="#ff0000" stroke-width="2.4" stroke-opacity="0.5" fill="none"/><path d="M1324.94 482.03H1346.14 M1324.94 533.97H1346.14 M1335.54 493.8V482.03 M1335.54 522.2V533.97" stroke="#ff0000" stroke-width="2.4" stroke-opacity="0.5" fill="none"/><path d="M1535.27 425.08H1556.47 M1535.27 479.92H1556.47 M1545.87 438.3V425.08 M1545.87 466.7V479.92" stroke="#ff0000" stroke-width="2.4" stroke-opacity="0.5" fill="none"/><path d="M530.36 1450.06H551.56 M530.36 1452.94H551.56" stroke="#0000ff" stroke-width="2.1" stroke-opacity="0.3" fill="none"/><path d="M540.96 1435V1450.06 M540.96 1468V1452.94" stroke="#0000ff" stroke-width="2.1" stroke-opacity="0.16" fill="none"/><path d="M600.47 1393.11H621.67 M600.47 1398.89H621.67" stroke="#0000ff" stroke-width="2.1" stroke-opacity="0.3" fill="none"/><path d="M611.07 1379.5V1393.11 M611.07 1412.5V1398.89" stroke="#0000ff" stroke-width="2.1" stroke-opacity="0.16" fill="none"/><path d="M623.84 1336.17H645.04 M623.84 1344.83H645.04" stroke="#0000ff" stroke-width="2.1" stroke-opacity="0.3" fill="none"/><path d="M634.44 1324V1336.17 M634.44 1357V1344.83" stroke="#0000ff" stroke-width="2.1" stroke-opacity="0.16" fill="none"/><path d="M670.58 1279.23H691.78 M670.58 1290.77H691.78" stroke="#0000ff" stroke-width="2.1" stroke-opacity="0.3" fill="none"/><path d="M681.18 1268.5V1279.23 M681.18 1301.5V1290.77" stroke="#0000ff" stroke-width="2.1" stroke-opacity="0.16" fill="none"/><path d="M693.95 1222.29H715.15 M693.95 1236.71H715.15" stroke="#0000ff" stroke-width="2.1" stroke-opacity="0.3" fill="none"/><path d="M704.55 1213V1222.29 M704.55 1246V1236.71" stroke="#0000ff" stroke-width="2.1" stroke-opacity="0.16" fill="none"/><path d="M740.69 1165.34H761.89 M740.69 1182.66H761.89" stroke="#0000ff" stroke-width="2.1" stroke-opacity="0.3" fill="none"/><path d="M751.29 1157.5V1165.34 M751.29 1190.5V1182.66" stroke="#0000ff" stroke-width="2.1" stroke-opacity="0.16" fill="none"/><path d="M787.43 1108.4H808.63 M787.43 1128.6H808.63" stroke="#0000ff" stroke-width="2.1" stroke-opacity="0.3" fill="none"/><path d="M798.03 1102V1108.4 M798.03 1135V1128.6" stroke="#0000ff" stroke-width="2.1" stroke-opacity="0.16" fill="none"/><path d="M834.17 1051.46H855.37 M834.17 1074.54H855.37" stroke="#0000ff" stroke-width="2.1" stroke-opacity="0.3" fill="none"/><path d="M844.77 1046.5V1051.46 M844.77 1079.5V1074.54" stroke="#0000ff" stroke-width="2.1" stroke-opacity="0.16" fill="none"/><path d="M880.91 994.51H902.11 M880.91 1020.49H902.11" stroke="#0000ff" stroke-width="2.1" stroke-opacity="0.3" fill="none"/><path d="M891.51 991V994.51 M891.51 1024V1020.49" stroke="#0000ff" stroke-width="2.1" stroke-opacity="0.16" fill="none"/><path d="M927.65 937.57H948.85 M927.65 966.43H948.85 M938.25 935.5V937.57 M938.25 968.5V966.43" stroke="#0000ff" stroke-width="2.4" stroke-opacity="0.5" fill="none"/><path d="M1021.13 880.63H1042.33 M1021.13 912.37H1042.33 M1031.73 880V880.63 M1031.73 913V912.37" stroke="#0000ff" stroke-width="2.4" stroke-opacity="0.5" fill="none"/><path d="M1067.87 823.68H1089.07 M1067.87 858.32H1089.07 M1078.47 824.5V823.68 M1078.47 857.5V858.32" stroke="#0000ff" stroke-width="2.4" stroke-opacity="0.5" fill="none"/><path d="M1137.98 766.74H1159.18 M1137.98 804.26H1159.18 M1148.58 769V766.74 M1148.58 802V804.26" stroke="#0000ff" stroke-width="2.4" stroke-opacity="0.5" fill="none"/><path d="M1184.72 709.8H1205.92 M1184.72 750.2H1205.92 M1195.32 713.5V709.8 M1195.32 746.5V750.2" stroke="#0000ff" stroke-width="2.4" stroke-opacity="0.5" fill="none"/><path d="M1231.46 652.86H1252.66 M1231.46 696.14H1252.66 M1242.06 658V652.86 M1242.06 691V696.14" stroke="#0000ff" stroke-width="2.4" stroke-opacity="0.5" fill="none"/><path d="M1301.57 595.91H1322.77 M1301.57 642.09H1322.77 M1312.17 602.5V595.91 M1312.17 635.5V642.09" stroke="#0000ff" stroke-width="2.4" stroke-opacity="0.5" fill="none"/><path d="M1511.9 538.97H1533.1 M1511.9 588.03H1533.1 M1522.5 547V538.97 M1522.5 580V588.03" stroke="#0000ff" stroke-width="2.4" stroke-opacity="0.5" fill="none"/><path d="M1558.64 482.03H1579.84 M1558.64 533.97H1579.84 M1569.24 491.5V482.03 M1569.24 524.5V533.97" stroke="#0000ff" stroke-width="2.4" stroke-opacity="0.5" fill="none"/><path d="M1628.75 425.08H1649.95 M1628.75 479.92H1649.95 M1639.35 436V425.08 M1639.35 469V479.92" stroke="#0000ff" stroke-width="2.4" stroke-opacity="0.5" fill="none"/><path d="M647.21 1450.06H668.41 M647.21 1452.94H668.41" stroke="#000000" stroke-width="2.1" stroke-opacity="0.3" fill="none"/><path d="M657.81 1435V1450.06 M657.81 1468V1452.94" stroke="#000000" stroke-width="2.1" stroke-opacity="0.16" fill="none"/><path d="M657.81 1462.5V1468" stroke="#000000" stroke-width="2.4" stroke-opacity="0.45" fill="none"/><path d="M693.95 1393.11H715.15 M693.95 1398.89H715.15" stroke="#000000" stroke-width="2.1" stroke-opacity="0.3" fill="none"/><path d="M704.55 1379.5V1393.11 M704.55 1412.5V1398.89" stroke="#000000" stroke-width="2.1" stroke-opacity="0.16" fill="none"/><path d="M704.55 1407V1412.5" stroke="#000000" stroke-width="2.4" stroke-opacity="0.45" fill="none"/><path d="M740.69 1336.17H761.89 M740.69 1344.83H761.89" stroke="#000000" stroke-width="2.1" stroke-opacity="0.3" fill="none"/><path d="M751.29 1324V1336.17 M751.29 1357V1344.83" stroke="#000000" stroke-width="2.1" stroke-opacity="0.16" fill="none"/><path d="M751.29 1351.5V1357" stroke="#000000" stroke-width="2.4" stroke-opacity="0.45" fill="none"/><path d="M787.43 1279.23H808.63 M787.43 1290.77H808.63" stroke="#000000" stroke-width="2.1" stroke-opacity="0.3" fill="none"/><path d="M798.03 1268.5V1279.23 M798.03 1301.5V1290.77" stroke="#000000" stroke-width="2.1" stroke-opacity="0.16" fill="none"/><path d="M798.03 1296V1301.5" stroke="#000000" stroke-width="2.4" stroke-opacity="0.45" fill="none"/><path d="M810.8 1222.29H832 M810.8 1236.71H832" stroke="#000000" stroke-width="2.1" stroke-opacity="0.3" fill="none"/><path d="M821.4 1213V1222.29 M821.4 1246V1236.71" stroke="#000000" stroke-width="2.1" stroke-opacity="0.16" fill="none"/><path d="M821.4 1240.5V1246" stroke="#000000" stroke-width="2.4" stroke-opacity="0.45" fill="none"/><path d="M857.54 1165.34H878.74 M857.54 1182.66H878.74" stroke="#000000" stroke-width="2.1" stroke-opacity="0.3" fill="none"/><path d="M868.14 1157.5V1165.34 M868.14 1190.5V1182.66" stroke="#000000" stroke-width="2.1" stroke-opacity="0.16" fill="none"/><path d="M868.14 1185V1190.5" stroke="#000000" stroke-width="2.4" stroke-opacity="0.45" fill="none"/><path d="M927.65 1108.4H948.85 M927.65 1128.6H948.85" stroke="#000000" stroke-width="2.1" stroke-opacity="0.3" fill="none"/><path d="M938.25 1102V1108.4 M938.25 1135V1128.6" stroke="#000000" stroke-width="2.1" stroke-opacity="0.16" fill="none"/><path d="M938.25 1129.5V1135" stroke="#000000" stroke-width="2.4" stroke-opacity="0.45" fill="none"/><path d="M974.39 1051.46H995.59 M974.39 1074.54H995.59" stroke="#000000" stroke-width="2.1" stroke-opacity="0.3" fill="none"/><path d="M984.99 1046.5V1051.46 M984.99 1079.5V1074.54" stroke="#000000" stroke-width="2.1" stroke-opacity="0.16" fill="none"/><path d="M984.99 1074V1079.5" stroke="#000000" stroke-width="2.4" stroke-opacity="0.45" fill="none"/><path d="M1067.87 994.51H1089.07 M1067.87 1020.49H1089.07" stroke="#000000" stroke-width="2.1" stroke-opacity="0.3" fill="none"/><path d="M1078.47 991V994.51 M1078.47 1024V1020.49" stroke="#000000" stroke-width="2.1" stroke-opacity="0.16" fill="none"/><path d="M1078.47 1018.5V1024" stroke="#000000" stroke-width="2.4" stroke-opacity="0.45" fill="none"/><path d="M1114.61 937.57H1135.81 M1114.61 966.43H1135.81 M1125.21 935.5V937.57 M1125.21 968.5V966.43" stroke="#000000" stroke-width="2.4" stroke-opacity="0.5" fill="none"/><path d="M1161.35 880.63H1182.55 M1161.35 912.37H1182.55 M1171.95 880V880.63 M1171.95 913V912.37" stroke="#000000" stroke-width="2.4" stroke-opacity="0.5" fill="none"/><path d="M1208.09 823.68H1229.29 M1208.09 858.32H1229.29 M1218.69 824.5V823.68 M1218.69 857.5V858.32" stroke="#000000" stroke-width="2.4" stroke-opacity="0.5" fill="none"/><path d="M1301.57 766.74H1322.77 M1301.57 804.26H1322.77 M1312.17 769V766.74 M1312.17 802V804.26" stroke="#000000" stroke-width="2.4" stroke-opacity="0.5" fill="none"/><path d="M1395.05 709.8H1416.25 M1395.05 750.2H1416.25 M1405.65 713.5V709.8 M1405.65 746.5V750.2" stroke="#000000" stroke-width="2.4" stroke-opacity="0.5" fill="none"/><path d="M1535.27 652.86H1556.47 M1535.27 696.14H1556.47 M1545.87 658V652.86 M1545.87 691V696.14" stroke="#000000" stroke-width="2.4" stroke-opacity="0.5" fill="none"/><path d="M1605.38 595.91H1626.58 M1605.38 642.09H1626.58 M1615.98 602.5V595.91 M1615.98 635.5V642.09" stroke="#000000" stroke-width="2.4" stroke-opacity="0.5" fill="none"/><path d="M1675.49 538.97H1696.69 M1675.49 588.03H1696.69 M1686.09 547V538.97 M1686.09 580V588.03" stroke="#000000" stroke-width="2.4" stroke-opacity="0.5" fill="none"/><path d="M740.69 1450.06H761.89 M740.69 1452.94H761.89" stroke="#ff8000" stroke-width="2.1" stroke-opacity="0.3" fill="none"/><path d="M751.29 1435V1450.06 M751.29 1468V1452.94" stroke="#ff8000" stroke-width="2.1" stroke-opacity="0.16" fill="none"/><path d="M751.29 1435V1441.5" stroke="#ff8000" stroke-width="2.4" stroke-opacity="0.45" fill="none"/><path d="M787.43 1393.11H808.63 M787.43 1398.89H808.63" stroke="#ff8000" stroke-width="2.1" stroke-opacity="0.3" fill="none"/><path d="M798.03 1379.5V1393.11 M798.03 1412.5V1398.89" stroke="#ff8000" stroke-width="2.1" stroke-opacity="0.16" fill="none"/><path d="M798.03 1379.5V1386" stroke="#ff8000" stroke-width="2.4" stroke-opacity="0.45" fill="none"/><path d="M834.17 1336.17H855.37 M834.17 1344.83H855.37" stroke="#ff8000" stroke-width="2.1" stroke-opacity="0.3" fill="none"/><path d="M844.77 1324V1336.17 M844.77 1357V1344.83" stroke="#ff8000" stroke-width="2.1" stroke-opacity="0.16" fill="none"/><path d="M844.77 1324V1330.5" stroke="#ff8000" stroke-width="2.4" stroke-opacity="0.45" fill="none"/><path d="M880.91 1279.23H902.11 M880.91 1290.77H902.11" stroke="#ff8000" stroke-width="2.1" stroke-opacity="0.3" fill="none"/><path d="M891.51 1268.5V1279.23 M891.51 1301.5V1290.77" stroke="#ff8000" stroke-width="2.1" stroke-opacity="0.16" fill="none"/><path d="M891.51 1268.5V1275" stroke="#ff8000" stroke-width="2.4" stroke-opacity="0.45" fill="none"/><path d="M951.02 1222.29H972.22 M951.02 1236.71H972.22" stroke="#ff8000" stroke-width="2.1" stroke-opacity="0.3" fill="none"/><path d="M961.62 1213V1222.29 M961.62 1246V1236.71" stroke="#ff8000" stroke-width="2.1" stroke-opacity="0.16" fill="none"/><path d="M961.62 1213V1219.5" stroke="#ff8000" stroke-width="2.4" stroke-opacity="0.45" fill="none"/><path d="M997.76 1165.34H1018.96 M997.76 1182.66H1018.96" stroke="#ff8000" stroke-width="2.1" stroke-opacity="0.3" fill="none"/><path d="M1008.36 1157.5V1165.34 M1008.36 1190.5V1182.66" stroke="#ff8000" stroke-width="2.1" stroke-opacity="0.16" fill="none"/><path d="M1008.36 1157.5V1164" stroke="#ff8000" stroke-width="2.4" stroke-opacity="0.45" fill="none"/><path d="M1067.87 1108.4H1089.07 M1067.87 1128.6H1089.07" stroke="#ff8000" stroke-width="2.1" stroke-opacity="0.3" fill="none"/><path d="M1078.47 1102V1108.4 M1078.47 1135V1128.6" stroke="#ff8000" stroke-width="2.1" stroke-opacity="0.16" fill="none"/><path d="M1078.47 1102V1108.5" stroke="#ff8000" stroke-width="2.4" stroke-opacity="0.45" fill="none"/><path d="M1137.98 1051.46H1159.18 M1137.98 1074.54H1159.18" stroke="#ff8000" stroke-width="2.1" stroke-opacity="0.3" fill="none"/><path d="M1148.58 1046.5V1051.46 M1148.58 1079.5V1074.54" stroke="#ff8000" stroke-width="2.1" stroke-opacity="0.16" fill="none"/><path d="M1148.58 1046.5V1053" stroke="#ff8000" stroke-width="2.4" stroke-opacity="0.45" fill="none"/><path d="M1184.72 994.51H1205.92 M1184.72 1020.49H1205.92" stroke="#ff8000" stroke-width="2.1" stroke-opacity="0.3" fill="none"/><path d="M1195.32 991V994.51 M1195.32 1024V1020.49" stroke="#ff8000" stroke-width="2.1" stroke-opacity="0.16" fill="none"/><path d="M1195.32 991V997.5" stroke="#ff8000" stroke-width="2.4" stroke-opacity="0.45" fill="none"/><path d="M1231.46 937.57H1252.66 M1231.46 966.43H1252.66 M1242.06 935.5V937.57 M1242.06 968.5V966.43" stroke="#ff8000" stroke-width="2.4" stroke-opacity="0.5" fill="none"/><path d="M1301.57 880.63H1322.77 M1301.57 912.37H1322.77 M1312.17 880V880.63 M1312.17 913V912.37" stroke="#ff8000" stroke-width="2.4" stroke-opacity="0.5" fill="none"/><path d="M1418.42 823.68H1439.62 M1418.42 858.32H1439.62 M1429.02 824.5V823.68 M1429.02 857.5V858.32" stroke="#ff8000" stroke-width="2.4" stroke-opacity="0.5" fill="none"/><path d="M1488.53 766.74H1509.73 M1488.53 804.26H1509.73 M1499.13 769V766.74 M1499.13 802V804.26" stroke="#ff8000" stroke-width="2.4" stroke-opacity="0.5" fill="none"/><path d="M1582.01 709.8H1603.21 M1582.01 750.2H1603.21 M1592.61 713.5V709.8 M1592.61 746.5V750.2" stroke="#ff8000" stroke-width="2.4" stroke-opacity="0.5" fill="none"/><path d="M1628.75 652.86H1649.95 M1628.75 696.14H1649.95 M1639.35 658V652.86 M1639.35 691V696.14" stroke="#ff8000" stroke-width="2.4" stroke-opacity="0.5" fill="none"/><path d="M834.17 1450.06H855.37 M834.17 1452.94H855.37" stroke="#008000" stroke-width="2.1" stroke-opacity="0.3" fill="none"/><path d="M844.77 1435V1450.06 M844.77 1468V1452.94" stroke="#008000" stroke-width="2.1" stroke-opacity="0.16" fill="none"/><path d="M880.91 1393.11H902.11 M880.91 1398.89H902.11" stroke="#008000" stroke-width="2.1" stroke-opacity="0.3" fill="none"/><path d="M891.51 1379.5V1393.11 M891.51 1412.5V1398.89" stroke="#008000" stroke-width="2.1" stroke-opacity="0.16" fill="none"/><path d="M951.02 1336.17H972.22 M951.02 1344.83H972.22" stroke="#008000" stroke-width="2.1" stroke-opacity="0.3" fill="none"/><path d="M961.62 1324V1336.17 M961.62 1357V1344.83" stroke="#008000" stroke-width="2.1" stroke-opacity="0.16" fill="none"/><path d="M1021.13 1279.23H1042.33 M1021.13 1290.77H1042.33" stroke="#008000" stroke-width="2.1" stroke-opacity="0.3" fill="none"/><path d="M1031.73 1268.5V1279.23 M1031.73 1301.5V1290.77" stroke="#008000" stroke-width="2.1" stroke-opacity="0.16" fill="none"/><path d="M1091.24 1222.29H1112.44 M1091.24 1236.71H1112.44" stroke="#008000" stroke-width="2.1" stroke-opacity="0.3" fill="none"/><path d="M1101.84 1213V1222.29 M1101.84 1246V1236.71" stroke="#008000" stroke-width="2.1" stroke-opacity="0.16" fill="none"/><path d="M1137.98 1165.34H1159.18 M1137.98 1182.66H1159.18" stroke="#008000" stroke-width="2.1" stroke-opacity="0.3" fill="none"/><path d="M1148.58 1157.5V1165.34 M1148.58 1190.5V1182.66" stroke="#008000" stroke-width="2.1" stroke-opacity="0.16" fill="none"/><path d="M1184.72 1108.4H1205.92 M1184.72 1128.6H1205.92" stroke="#008000" stroke-width="2.1" stroke-opacity="0.3" fill="none"/><path d="M1195.32 1102V1108.4 M1195.32 1135V1128.6" stroke="#008000" stroke-width="2.1" stroke-opacity="0.16" fill="none"/><path d="M1254.83 1051.46H1276.03 M1254.83 1074.54H1276.03" stroke="#008000" stroke-width="2.1" stroke-opacity="0.3" fill="none"/><path d="M1265.43 1046.5V1051.46 M1265.43 1079.5V1074.54" stroke="#008000" stroke-width="2.1" stroke-opacity="0.16" fill="none"/><path d="M1348.31 994.51H1369.51 M1348.31 1020.49H1369.51" stroke="#008000" stroke-width="2.1" stroke-opacity="0.3" fill="none"/><path d="M1358.91 991V994.51 M1358.91 1024V1020.49" stroke="#008000" stroke-width="2.1" stroke-opacity="0.16" fill="none"/><path d="M951.02 1450.06H972.22 M951.02 1452.94H972.22" stroke="#8000ff" stroke-width="2.1" stroke-opacity="0.3" fill="none"/><path d="M961.62 1435V1450.06 M961.62 1468V1452.94" stroke="#8000ff" stroke-width="2.1" stroke-opacity="0.16" fill="none"/><path d="M1021.13 1393.11H1042.33 M1021.13 1398.89H1042.33" stroke="#8000ff" stroke-width="2.1" stroke-opacity="0.3" fill="none"/><path d="M1031.73 1379.5V1393.11 M1031.73 1412.5V1398.89" stroke="#8000ff" stroke-width="2.1" stroke-opacity="0.16" fill="none"/><path d="M1091.24 1336.17H1112.44 M1091.24 1344.83H1112.44" stroke="#8000ff" stroke-width="2.1" stroke-opacity="0.3" fill="none"/><path d="M1101.84 1324V1336.17 M1101.84 1357V1344.83" stroke="#8000ff" stroke-width="2.1" stroke-opacity="0.16" fill="none"/></g>
<g><polygon points="432.88,1214.9 462.08,1214.9 462.08,1244.1 432.88,1244.1" fill="#ff0000"/><polygon points="456.25,1159.4 485.45,1159.4 485.45,1188.6 456.25,1188.6" fill="#ff0000"/><polygon points="502.99,1103.9 532.19,1103.9 532.19,1133.1 502.99,1133.1" fill="#ff0000"/><polygon points="526.36,1048.4 555.56,1048.4 555.56,1077.6 526.36,1077.6" fill="#ff0000"/></g>
<g><path d="M448.48 1219.1 A10.4 10.4 0 0 0 448.48 1239.9 Z" fill="#c0c0c0"/><circle cx="447.48" cy="1229.5" r="9.3" fill="none" stroke="#c0c0c0" stroke-width="2.2"/><path d="M471.85 1163.6 A10.4 10.4 0 0 0 471.85 1184.4 Z" fill="#c0c0c0"/><circle cx="470.85" cy="1174" r="9.3" fill="none" stroke="#c0c0c0" stroke-width="2.2"/></g>
<g><circle cx="494.22" cy="1174" r="12.5" fill="#0000ff"/><circle cx="517.59" cy="1118.5" r="12.5" fill="#0000ff"/><circle cx="564.33" cy="1063" r="12.5" fill="#0000ff"/><circle cx="587.7" cy="1007.5" r="12.5" fill="#0000ff"/><circle cx="634.44" cy="952" r="12.5" fill="#0000ff"/><circle cx="681.18" cy="896.5" r="12.5" fill="#0000ff"/><circle cx="727.92" cy="841" r="12.5" fill="#0000ff"/><circle cx="751.29" cy="785.5" r="12.5" fill="#0000ff"/></g>
<g><polygon points="494.22,1154.8 511.72,1184.8 476.72,1184.8" fill="#000000"/><polygon points="540.96,1099.3 558.46,1129.3 523.46,1129.3" fill="#000000"/><polygon points="587.7,1043.8 605.2,1073.8 570.2,1073.8" fill="#000000"/><polygon points="611.07,988.3 628.57,1018.3 593.57,1018.3" fill="#000000"/><polygon points="657.81,932.8 675.31,962.8 640.31,962.8" fill="#000000"/><polygon points="704.55,877.3 722.05,907.3 687.05,907.3" fill="#000000"/><polygon points="751.29,821.8 768.79,851.8 733.79,851.8" fill="#000000"/><polygon points="774.66,766.3 792.16,796.3 757.16,796.3" fill="#000000"/><polygon points="844.77,710.8 862.27,740.8 827.27,740.8" fill="#000000"/><polygon points="891.51,655.3 909.01,685.3 874.01,685.3" fill="#000000"/></g>
<g><polygon points="470.85,1305 488.35,1275 453.35,1275" fill="#ff8000"/><polygon points="494.22,1249.5 511.72,1219.5 476.72,1219.5" fill="#ff8000"/><polygon points="540.96,1194 558.46,1164 523.46,1164" fill="#ff8000"/><polygon points="564.33,1138.5 581.83,1108.5 546.83,1108.5" fill="#ff8000"/><polygon points="611.07,1083 628.57,1053 593.57,1053" fill="#ff8000"/><polygon points="634.44,1027.5 651.94,997.5 616.94,997.5" fill="#ff8000"/><polygon points="681.18,972 698.68,942 663.68,942" fill="#ff8000"/><polygon points="727.92,916.5 745.42,886.5 710.42,886.5" fill="#ff8000"/><polygon points="774.66,861 792.16,831 757.16,831" fill="#ff8000"/><polygon points="821.4,805.5 838.9,775.5 803.9,775.5" fill="#ff8000"/><polygon points="868.14,750 885.64,720 850.64,720" fill="#ff8000"/><polygon points="914.88,694.5 932.38,664.5 897.38,664.5" fill="#ff8000"/><polygon points="961.62,639 979.12,609 944.12,609" fill="#ff8000"/><polygon points="1031.73,583.5 1049.23,553.5 1014.23,553.5" fill="#ff8000"/></g>
<g><polygon points="494.22,1266.9 512.32,1285 494.22,1303.1 476.12,1285" fill="#007800"/><polygon points="517.59,1211.4 535.69,1229.5 517.59,1247.6 499.49,1229.5" fill="#007800"/><polygon points="564.33,1155.9 582.43,1174 564.33,1192.1 546.23,1174" fill="#007800"/><polygon points="587.7,1100.4 605.8,1118.5 587.7,1136.6 569.6,1118.5" fill="#007800"/><polygon points="634.44,1044.9 652.54,1063 634.44,1081.1 616.34,1063" fill="#007800"/><polygon points="657.81,989.4 675.91,1007.5 657.81,1025.6 639.71,1007.5" fill="#007800"/><polygon points="704.55,933.9 722.65,952 704.55,970.1 686.45,952" fill="#007800"/><polygon points="751.29,878.4 769.39,896.5 751.29,914.6 733.19,896.5" fill="#007800"/><polygon points="798.03,822.9 816.13,841 798.03,859.1 779.93,841" fill="#007800"/><polygon points="844.77,767.4 862.87,785.5 844.77,803.6 826.67,785.5" fill="#007800"/><polygon points="891.51,711.9 909.61,730 891.51,748.1 873.41,730" fill="#007800"/><polygon points="961.62,656.4 979.72,674.5 961.62,692.6 943.52,674.5" fill="#007800"/><polygon points="1008.36,600.9 1026.46,619 1008.36,637.1 990.26,619" fill="#007800"/><polygon points="1078.47,545.4 1096.57,563.5 1078.47,581.6 1060.37,563.5" fill="#007800"/></g>
<g><polygon points="520.96,1229.5 550.96,1212 550.96,1247" fill="#8000ff"/><polygon points="567.7,1174 597.7,1156.5 597.7,1191.5" fill="#8000ff"/><polygon points="591.07,1118.5 621.07,1101 621.07,1136" fill="#8000ff"/><polygon points="637.81,1063 667.81,1045.5 667.81,1080.5" fill="#8000ff"/><polygon points="661.18,1007.5 691.18,990 691.18,1025" fill="#8000ff"/><polygon points="707.92,952 737.92,934.5 737.92,969.5" fill="#8000ff"/><polygon points="754.66,896.5 784.66,879 784.66,914" fill="#8000ff"/><polygon points="801.4,841 831.4,823.5 831.4,858.5" fill="#8000ff"/><polygon points="848.14,785.5 878.14,768 878.14,803" fill="#8000ff"/><polygon points="894.88,730 924.88,712.5 924.88,747.5" fill="#8000ff"/><polygon points="964.99,674.5 994.99,657 994.99,692" fill="#8000ff"/><polygon points="1011.73,619 1041.73,601.5 1041.73,636.5" fill="#8000ff"/><polygon points="1105.21,563.5 1135.21,546 1135.21,581" fill="#8000ff"/><polygon points="1151.95,508 1181.95,490.5 1181.95,525.5" fill="#8000ff"/><polygon points="1175.32,452.5 1205.32,435 1205.32,470" fill="#8000ff"/></g>
<g><polygon points="490.85,1340.5 460.85,1323 460.85,1358" fill="#808000"/><polygon points="537.59,1285 507.59,1267.5 507.59,1302.5" fill="#808000"/><polygon points="560.96,1229.5 530.96,1212 530.96,1247" fill="#808000"/><polygon points="607.7,1174 577.7,1156.5 577.7,1191.5" fill="#808000"/><polygon points="654.44,1118.5 624.44,1101 624.44,1136" fill="#808000"/><polygon points="677.81,1063 647.81,1045.5 647.81,1080.5" fill="#808000"/><polygon points="724.55,1007.5 694.55,990 694.55,1025" fill="#808000"/><polygon points="771.29,952 741.29,934.5 741.29,969.5" fill="#808000"/><polygon points="818.03,896.5 788.03,879 788.03,914" fill="#808000"/><polygon points="864.77,841 834.77,823.5 834.77,858.5" fill="#808000"/><polygon points="911.51,785.5 881.51,768 881.51,803" fill="#808000"/><polygon points="958.25,730 928.25,712.5 928.25,747.5" fill="#808000"/><polygon points="1028.36,674.5 998.36,657 998.36,692" fill="#808000"/><polygon points="1098.47,619 1068.47,601.5 1068.47,636.5" fill="#808000"/><polygon points="1168.58,563.5 1138.58,546 1138.58,581" fill="#808000"/><polygon points="1215.32,508 1185.32,490.5 1185.32,525.5" fill="#808000"/><polygon points="1262.06,452.5 1232.06,435 1232.06,470" fill="#808000"/></g>
<g><polygon points="470.85,1380.5 484.27,1388.25 484.27,1403.75 470.85,1411.5 457.43,1403.75 457.43,1388.25" fill="#80ffff"/><polygon points="494.22,1325 507.64,1332.75 507.64,1348.25 494.22,1356 480.8,1348.25 480.8,1332.75" fill="#80ffff"/><polygon points="540.96,1269.5 554.38,1277.25 554.38,1292.75 540.96,1300.5 527.54,1292.75 527.54,1277.25" fill="#80ffff"/><polygon points="564.33,1214 577.75,1221.75 577.75,1237.25 564.33,1245 550.91,1237.25 550.91,1221.75" fill="#80ffff"/><polygon points="611.07,1158.5 624.49,1166.25 624.49,1181.75 611.07,1189.5 597.65,1181.75 597.65,1166.25" fill="#80ffff"/><polygon points="634.44,1103 647.86,1110.75 647.86,1126.25 634.44,1134 621.02,1126.25 621.02,1110.75" fill="#80ffff"/><polygon points="681.18,1047.5 694.6,1055.25 694.6,1070.75 681.18,1078.5 667.76,1070.75 667.76,1055.25" fill="#80ffff"/><polygon points="727.92,992 741.34,999.75 741.34,1015.25 727.92,1023 714.5,1015.25 714.5,999.75" fill="#80ffff"/><polygon points="774.66,936.5 788.08,944.25 788.08,959.75 774.66,967.5 761.24,959.75 761.24,944.25" fill="#80ffff"/><polygon points="821.4,881 834.82,888.75 834.82,904.25 821.4,912 807.98,904.25 807.98,888.75" fill="#80ffff"/><polygon points="868.14,825.5 881.56,833.25 881.56,848.75 868.14,856.5 854.72,848.75 854.72,833.25" fill="#80ffff"/><polygon points="914.88,770 928.3,777.75 928.3,793.25 914.88,801 901.46,793.25 901.46,777.75" fill="#80ffff"/><polygon points="984.99,714.5 998.41,722.25 998.41,737.75 984.99,745.5 971.57,737.75 971.57,722.25" fill="#80ffff"/><polygon points="1055.1,659 1068.52,666.75 1068.52,682.25 1055.1,690 1041.68,682.25 1041.68,666.75" fill="#80ffff"/><polygon points="1101.84,603.5 1115.26,611.25 1115.26,626.75 1101.84,634.5 1088.42,626.75 1088.42,611.25" fill="#80ffff"/><polygon points="1171.95,548 1185.37,555.75 1185.37,571.25 1171.95,579 1158.53,571.25 1158.53,555.75" fill="#80ffff"/><polygon points="1218.69,492.5 1232.11,500.25 1232.11,515.75 1218.69,523.5 1205.27,515.75 1205.27,500.25" fill="#80ffff"/><polygon points="1265.43,437 1278.85,444.75 1278.85,460.25 1265.43,468 1252.01,460.25 1252.01,444.75" fill="#80ffff"/></g>
<g><polygon points="540.96,1269.9 544.86,1281.13 556.75,1281.37 547.28,1288.55 550.72,1299.93 540.96,1293.14 531.2,1299.93 534.64,1288.55 525.17,1281.37 537.06,1281.13" fill="#ff80ff"/><polygon points="564.33,1214.4 568.23,1225.63 580.12,1225.87 570.65,1233.05 574.09,1244.43 564.33,1237.64 554.57,1244.43 558.01,1233.05 548.54,1225.87 560.43,1225.63" fill="#ff80ff"/><polygon points="611.07,1158.9 614.97,1170.13 626.86,1170.37 617.39,1177.55 620.83,1188.93 611.07,1182.14 601.31,1188.93 604.75,1177.55 595.28,1170.37 607.17,1170.13" fill="#ff80ff"/><polygon points="657.81,1103.4 661.71,1114.63 673.6,1114.87 664.13,1122.05 667.57,1133.43 657.81,1126.64 648.05,1133.43 651.49,1122.05 642.02,1114.87 653.91,1114.63" fill="#ff80ff"/><polygon points="704.55,1047.9 708.45,1059.13 720.34,1059.37 710.87,1066.55 714.31,1077.93 704.55,1071.14 694.79,1077.93 698.23,1066.55 688.76,1059.37 700.65,1059.13" fill="#ff80ff"/><polygon points="727.92,992.4 731.82,1003.63 743.71,1003.87 734.24,1011.05 737.68,1022.43 727.92,1015.64 718.16,1022.43 721.6,1011.05 712.13,1003.87 724.02,1003.63" fill="#ff80ff"/><polygon points="774.66,936.9 778.56,948.13 790.45,948.37 780.98,955.55 784.42,966.93 774.66,960.14 764.9,966.93 768.34,955.55 758.87,948.37 770.76,948.13" fill="#ff80ff"/><polygon points="844.77,881.4 848.67,892.63 860.56,892.87 851.09,900.05 854.53,911.43 844.77,904.64 835.01,911.43 838.45,900.05 828.98,892.87 840.87,892.63" fill="#ff80ff"/><polygon points="891.51,825.9 895.41,837.13 907.3,837.37 897.83,844.55 901.27,855.93 891.51,849.14 881.75,855.93 885.19,844.55 875.72,837.37 887.61,837.13" fill="#ff80ff"/><polygon points="938.25,770.4 942.15,781.63 954.04,781.87 944.57,789.05 948.01,800.43 938.25,793.64 928.49,800.43 931.93,789.05 922.46,781.87 934.35,781.63" fill="#ff80ff"/><polygon points="984.99,714.9 988.89,726.13 1000.78,726.37 991.31,733.55 994.75,744.93 984.99,738.14 975.23,744.93 978.67,733.55 969.2,726.37 981.09,726.13" fill="#ff80ff"/><polygon points="1078.47,659.4 1082.37,670.63 1094.26,670.87 1084.79,678.05 1088.23,689.43 1078.47,682.64 1068.71,689.43 1072.15,678.05 1062.68,670.87 1074.57,670.63" fill="#ff80ff"/><polygon points="1125.21,603.9 1129.11,615.13 1141,615.37 1131.53,622.55 1134.97,633.93 1125.21,627.14 1115.45,633.93 1118.89,622.55 1109.42,615.37 1121.31,615.13" fill="#ff80ff"/><polygon points="1171.95,548.4 1175.85,559.63 1187.74,559.87 1178.27,567.05 1181.71,578.43 1171.95,571.64 1162.19,578.43 1165.63,567.05 1156.16,559.87 1168.05,559.63" fill="#ff80ff"/><polygon points="1218.69,492.9 1222.59,504.13 1234.48,504.37 1225.01,511.55 1228.45,522.93 1218.69,516.14 1208.93,522.93 1212.37,511.55 1202.9,504.37 1214.79,504.13" fill="#ff80ff"/><polygon points="1288.8,437.4 1292.7,448.63 1304.59,448.87 1295.12,456.05 1298.56,467.43 1288.8,460.64 1279.04,467.43 1282.48,456.05 1273.01,448.87 1284.9,448.63" fill="#ff80ff"/><polygon points="1335.54,381.9 1339.44,393.13 1351.33,393.37 1341.86,400.55 1345.3,411.93 1335.54,405.14 1325.78,411.93 1329.22,400.55 1319.75,393.37 1331.64,393.13" fill="#ff80ff"/><polygon points="1382.28,326.4 1386.18,337.63 1398.07,337.87 1388.6,345.05 1392.04,356.43 1382.28,349.64 1372.52,356.43 1375.96,345.05 1366.49,337.87 1378.38,337.63" fill="#ff80ff"/></g>
<g><polygon points="400.74,1492 416.43,1503.4 410.44,1521.85 391.04,1521.85 385.05,1503.4" fill="#00ff00"/><polygon points="447.48,1436.5 463.17,1447.9 457.18,1466.35 437.78,1466.35 431.79,1447.9" fill="#00ff00"/><polygon points="494.22,1381 509.91,1392.4 503.92,1410.85 484.52,1410.85 478.53,1392.4" fill="#00ff00"/><polygon points="517.59,1325.5 533.28,1336.9 527.29,1355.35 507.89,1355.35 501.9,1336.9" fill="#00ff00"/><polygon points="564.33,1270 580.02,1281.4 574.03,1299.85 554.63,1299.85 548.64,1281.4" fill="#00ff00"/><polygon points="587.7,1214.5 603.39,1225.9 597.4,1244.35 578,1244.35 572.01,1225.9" fill="#00ff00"/><polygon points="634.44,1159 650.13,1170.4 644.14,1188.85 624.74,1188.85 618.75,1170.4" fill="#00ff00"/><polygon points="681.18,1103.5 696.87,1114.9 690.88,1133.35 671.48,1133.35 665.49,1114.9" fill="#00ff00"/><polygon points="727.92,1048 743.61,1059.4 737.62,1077.85 718.22,1077.85 712.23,1059.4" fill="#00ff00"/><polygon points="751.29,992.5 766.98,1003.9 760.99,1022.35 741.59,1022.35 735.6,1003.9" fill="#00ff00"/><polygon points="798.03,937 813.72,948.4 807.73,966.85 788.33,966.85 782.34,948.4" fill="#00ff00"/><polygon points="868.14,881.5 883.83,892.9 877.84,911.35 858.44,911.35 852.45,892.9" fill="#00ff00"/><polygon points="914.88,826 930.57,837.4 924.58,855.85 905.18,855.85 899.19,837.4" fill="#00ff00"/><polygon points="961.62,770.5 977.31,781.9 971.32,800.35 951.92,800.35 945.93,781.9" fill="#00ff00"/><polygon points="1031.73,715 1047.42,726.4 1041.43,744.85 1022.03,744.85 1016.04,726.4" fill="#00ff00"/><polygon points="1101.84,659.5 1117.53,670.9 1111.54,689.35 1092.14,689.35 1086.15,670.9" fill="#00ff00"/><polygon points="1148.58,604 1164.27,615.4 1158.28,633.85 1138.88,633.85 1132.89,615.4" fill="#00ff00"/><polygon points="1195.32,548.5 1211.01,559.9 1205.02,578.35 1185.62,578.35 1179.63,559.9" fill="#00ff00"/><polygon points="1242.06,493 1257.75,504.4 1251.76,522.85 1232.36,522.85 1226.37,504.4" fill="#00ff00"/><polygon points="1335.54,437.5 1351.23,448.9 1345.24,467.35 1325.84,467.35 1319.85,448.9" fill="#00ff00"/><polygon points="1382.28,382 1397.97,393.4 1391.98,411.85 1372.58,411.85 1366.59,393.4" fill="#00ff00"/><polygon points="1429.02,326.5 1444.71,337.9 1438.72,356.35 1419.32,356.35 1413.33,337.9" fill="#00ff00"/></g>
<g><polygon points="435.88,1495.4 459.08,1495.4 459.08,1518.6 435.88,1518.6" fill="none" stroke="#ff3535" stroke-width="3.2" stroke-linejoin="miter"/><polygon points="482.62,1439.9 505.82,1439.9 505.82,1463.1 482.62,1463.1" fill="none" stroke="#ff3535" stroke-width="3.2" stroke-linejoin="miter"/><polygon points="529.36,1384.4 552.56,1384.4 552.56,1407.6 529.36,1407.6" fill="none" stroke="#ff3535" stroke-width="3.2" stroke-linejoin="miter"/><polygon points="552.73,1328.9 575.93,1328.9 575.93,1352.1 552.73,1352.1" fill="none" stroke="#ff3535" stroke-width="3.2" stroke-linejoin="miter"/><polygon points="599.47,1273.4 622.67,1273.4 622.67,1296.6 599.47,1296.6" fill="none" stroke="#ff3535" stroke-width="3.2" stroke-linejoin="miter"/><polygon points="622.84,1217.9 646.04,1217.9 646.04,1241.1 622.84,1241.1" fill="none" stroke="#ff3535" stroke-width="3.2" stroke-linejoin="miter"/><polygon points="669.58,1162.4 692.78,1162.4 692.78,1185.6 669.58,1185.6" fill="none" stroke="#ff3535" stroke-width="3.2" stroke-linejoin="miter"/><polygon points="716.32,1106.9 739.52,1106.9 739.52,1130.1 716.32,1130.1" fill="none" stroke="#ff3535" stroke-width="3.2" stroke-linejoin="miter"/><polygon points="763.06,1051.4 786.26,1051.4 786.26,1074.6 763.06,1074.6" fill="none" stroke="#ff3535" stroke-width="3.2" stroke-linejoin="miter"/><polygon points="786.43,995.9 809.63,995.9 809.63,1019.1 786.43,1019.1" fill="none" stroke="#ff3535" stroke-width="3.2" stroke-linejoin="miter"/><polygon points="856.54,940.4 879.74,940.4 879.74,963.6 856.54,963.6" fill="none" stroke="#ff3535" stroke-width="3.2" stroke-linejoin="miter"/><polygon points="903.28,884.9 926.48,884.9 926.48,908.1 903.28,908.1" fill="none" stroke="#ff3535" stroke-width="3.2" stroke-linejoin="miter"/><polygon points="950.02,829.4 973.22,829.4 973.22,852.6 950.02,852.6" fill="none" stroke="#ff3535" stroke-width="3.2" stroke-linejoin="miter"/><polygon points="1043.5,773.9 1066.7,773.9 1066.7,797.1 1043.5,797.1" fill="none" stroke="#ff3535" stroke-width="3.2" stroke-linejoin="miter"/><polygon points="1090.24,718.4 1113.44,718.4 1113.44,741.6 1090.24,741.6" fill="none" stroke="#ff3535" stroke-width="3.2" stroke-linejoin="miter"/><polygon points="1160.35,662.9 1183.55,662.9 1183.55,686.1 1160.35,686.1" fill="none" stroke="#ff3535" stroke-width="3.2" stroke-linejoin="miter"/><polygon points="1207.09,607.4 1230.29,607.4 1230.29,630.6 1207.09,630.6" fill="none" stroke="#ff3535" stroke-width="3.2" stroke-linejoin="miter"/><polygon points="1253.83,551.9 1277.03,551.9 1277.03,575.1 1253.83,575.1" fill="none" stroke="#ff3535" stroke-width="3.2" stroke-linejoin="miter"/><polygon points="1323.94,496.4 1347.14,496.4 1347.14,519.6 1323.94,519.6" fill="none" stroke="#ff3535" stroke-width="3.2" stroke-linejoin="miter"/><polygon points="1534.27,440.9 1557.47,440.9 1557.47,464.1 1534.27,464.1" fill="none" stroke="#ff3535" stroke-width="3.2" stroke-linejoin="miter"/></g>
<g><polygon points="494.22,1491.06 510.16,1507 494.22,1522.94 478.28,1507" fill="none" stroke="#3a3aff" stroke-width="3.2" stroke-linejoin="miter"/><polygon points="540.96,1435.56 556.9,1451.5 540.96,1467.44 525.02,1451.5" fill="none" stroke="#3a3aff" stroke-width="3.2" stroke-linejoin="miter"/><polygon points="611.07,1380.06 627.01,1396 611.07,1411.94 595.13,1396" fill="none" stroke="#3a3aff" stroke-width="3.2" stroke-linejoin="miter"/><polygon points="634.44,1324.56 650.38,1340.5 634.44,1356.44 618.5,1340.5" fill="none" stroke="#3a3aff" stroke-width="3.2" stroke-linejoin="miter"/><polygon points="681.18,1269.06 697.12,1285 681.18,1300.94 665.24,1285" fill="none" stroke="#3a3aff" stroke-width="3.2" stroke-linejoin="miter"/><polygon points="704.55,1213.56 720.49,1229.5 704.55,1245.44 688.61,1229.5" fill="none" stroke="#3a3aff" stroke-width="3.2" stroke-linejoin="miter"/><polygon points="751.29,1158.06 767.23,1174 751.29,1189.94 735.35,1174" fill="none" stroke="#3a3aff" stroke-width="3.2" stroke-linejoin="miter"/><polygon points="798.03,1102.56 813.97,1118.5 798.03,1134.44 782.09,1118.5" fill="none" stroke="#3a3aff" stroke-width="3.2" stroke-linejoin="miter"/><polygon points="844.77,1047.06 860.71,1063 844.77,1078.94 828.83,1063" fill="none" stroke="#3a3aff" stroke-width="3.2" stroke-linejoin="miter"/><polygon points="891.51,991.56 907.45,1007.5 891.51,1023.44 875.57,1007.5" fill="none" stroke="#3a3aff" stroke-width="3.2" stroke-linejoin="miter"/><polygon points="938.25,936.06 954.19,952 938.25,967.94 922.31,952" fill="none" stroke="#3a3aff" stroke-width="3.2" stroke-linejoin="miter"/><polygon points="1031.73,880.56 1047.67,896.5 1031.73,912.44 1015.79,896.5" fill="none" stroke="#3a3aff" stroke-width="3.2" stroke-linejoin="miter"/><polygon points="1078.47,825.06 1094.41,841 1078.47,856.94 1062.53,841" fill="none" stroke="#3a3aff" stroke-width="3.2" stroke-linejoin="miter"/><polygon points="1148.58,769.56 1164.52,785.5 1148.58,801.44 1132.64,785.5" fill="none" stroke="#3a3aff" stroke-width="3.2" stroke-linejoin="miter"/><polygon points="1195.32,714.06 1211.26,730 1195.32,745.94 1179.38,730" fill="none" stroke="#3a3aff" stroke-width="3.2" stroke-linejoin="miter"/><polygon points="1242.06,658.56 1258,674.5 1242.06,690.44 1226.12,674.5" fill="none" stroke="#3a3aff" stroke-width="3.2" stroke-linejoin="miter"/><polygon points="1312.17,603.06 1328.11,619 1312.17,634.94 1296.23,619" fill="none" stroke="#3a3aff" stroke-width="3.2" stroke-linejoin="miter"/><polygon points="1522.5,547.56 1538.44,563.5 1522.5,579.44 1506.56,563.5" fill="none" stroke="#3a3aff" stroke-width="3.2" stroke-linejoin="miter"/><polygon points="1569.24,492.06 1585.18,508 1569.24,523.94 1553.3,508" fill="none" stroke="#3a3aff" stroke-width="3.2" stroke-linejoin="miter"/><polygon points="1639.35,436.56 1655.29,452.5 1639.35,468.44 1623.41,452.5" fill="none" stroke="#3a3aff" stroke-width="3.2" stroke-linejoin="miter"/></g>
<g><polygon points="611.07,1490.54 626.22,1516.6 595.92,1516.6" fill="none" stroke="#3a3a3a" stroke-width="3.2" stroke-linejoin="miter"/><polygon points="657.81,1435.04 672.96,1461.1 642.66,1461.1" fill="none" stroke="#3a3a3a" stroke-width="3.2" stroke-linejoin="miter"/><polygon points="704.55,1379.54 719.7,1405.6 689.4,1405.6" fill="none" stroke="#3a3a3a" stroke-width="3.2" stroke-linejoin="miter"/><polygon points="751.29,1324.04 766.44,1350.1 736.14,1350.1" fill="none" stroke="#3a3a3a" stroke-width="3.2" stroke-linejoin="miter"/><polygon points="798.03,1268.54 813.18,1294.6 782.88,1294.6" fill="none" stroke="#3a3a3a" stroke-width="3.2" stroke-linejoin="miter"/><polygon points="821.4,1213.04 836.55,1239.1 806.25,1239.1" fill="none" stroke="#3a3a3a" stroke-width="3.2" stroke-linejoin="miter"/><polygon points="868.14,1157.54 883.29,1183.6 852.99,1183.6" fill="none" stroke="#3a3a3a" stroke-width="3.2" stroke-linejoin="miter"/><polygon points="938.25,1102.04 953.4,1128.1 923.1,1128.1" fill="none" stroke="#3a3a3a" stroke-width="3.2" stroke-linejoin="miter"/><polygon points="984.99,1046.54 1000.14,1072.6 969.84,1072.6" fill="none" stroke="#3a3a3a" stroke-width="3.2" stroke-linejoin="miter"/><polygon points="1078.47,991.04 1093.62,1017.1 1063.32,1017.1" fill="none" stroke="#3a3a3a" stroke-width="3.2" stroke-linejoin="miter"/><polygon points="1125.21,935.54 1140.36,961.6 1110.06,961.6" fill="none" stroke="#3a3a3a" stroke-width="3.2" stroke-linejoin="miter"/><polygon points="1171.95,880.04 1187.1,906.1 1156.8,906.1" fill="none" stroke="#3a3a3a" stroke-width="3.2" stroke-linejoin="miter"/><polygon points="1218.69,824.54 1233.84,850.6 1203.54,850.6" fill="none" stroke="#3a3a3a" stroke-width="3.2" stroke-linejoin="miter"/><polygon points="1312.17,769.04 1327.32,795.1 1297.02,795.1" fill="none" stroke="#3a3a3a" stroke-width="3.2" stroke-linejoin="miter"/><polygon points="1405.65,713.54 1420.8,739.6 1390.5,739.6" fill="none" stroke="#3a3a3a" stroke-width="3.2" stroke-linejoin="miter"/><polygon points="1545.87,658.04 1561.02,684.1 1530.72,684.1" fill="none" stroke="#3a3a3a" stroke-width="3.2" stroke-linejoin="miter"/><polygon points="1615.98,602.54 1631.13,628.6 1600.83,628.6" fill="none" stroke="#3a3a3a" stroke-width="3.2" stroke-linejoin="miter"/><polygon points="1686.09,547.04 1701.24,573.1 1670.94,573.1" fill="none" stroke="#3a3a3a" stroke-width="3.2" stroke-linejoin="miter"/></g>
<g><polygon points="704.55,1524.26 719.7,1498.2 689.4,1498.2" fill="none" stroke="#ff8833" stroke-width="3.2" stroke-linejoin="miter"/><polygon points="751.29,1468.76 766.44,1442.7 736.14,1442.7" fill="none" stroke="#ff8833" stroke-width="3.2" stroke-linejoin="miter"/><polygon points="798.03,1413.26 813.18,1387.2 782.88,1387.2" fill="none" stroke="#ff8833" stroke-width="3.2" stroke-linejoin="miter"/><polygon points="844.77,1357.76 859.92,1331.7 829.62,1331.7" fill="none" stroke="#ff8833" stroke-width="3.2" stroke-linejoin="miter"/><polygon points="891.51,1302.26 906.66,1276.2 876.36,1276.2" fill="none" stroke="#ff8833" stroke-width="3.2" stroke-linejoin="miter"/><polygon points="961.62,1246.76 976.77,1220.7 946.47,1220.7" fill="none" stroke="#ff8833" stroke-width="3.2" stroke-linejoin="miter"/><polygon points="1008.36,1191.26 1023.51,1165.2 993.21,1165.2" fill="none" stroke="#ff8833" stroke-width="3.2" stroke-linejoin="miter"/><polygon points="1078.47,1135.76 1093.62,1109.7 1063.32,1109.7" fill="none" stroke="#ff8833" stroke-width="3.2" stroke-linejoin="miter"/><polygon points="1148.58,1080.26 1163.73,1054.2 1133.43,1054.2" fill="none" stroke="#ff8833" stroke-width="3.2" stroke-linejoin="miter"/><polygon points="1195.32,1024.76 1210.47,998.7 1180.17,998.7" fill="none" stroke="#ff8833" stroke-width="3.2" stroke-linejoin="miter"/><polygon points="1242.06,969.26 1257.21,943.2 1226.91,943.2" fill="none" stroke="#ff8833" stroke-width="3.2" stroke-linejoin="miter"/><polygon points="1312.17,913.76 1327.32,887.7 1297.02,887.7" fill="none" stroke="#ff8833" stroke-width="3.2" stroke-linejoin="miter"/><polygon points="1429.02,858.26 1444.17,832.2 1413.87,832.2" fill="none" stroke="#ff8833" stroke-width="3.2" stroke-linejoin="miter"/><polygon points="1499.13,802.76 1514.28,776.7 1483.98,776.7" fill="none" stroke="#ff8833" stroke-width="3.2" stroke-linejoin="miter"/><polygon points="1592.61,747.26 1607.76,721.2 1577.46,721.2" fill="none" stroke="#ff8833" stroke-width="3.2" stroke-linejoin="miter"/><polygon points="1639.35,691.76 1654.5,665.7 1624.2,665.7" fill="none" stroke="#ff8833" stroke-width="3.2" stroke-linejoin="miter"/></g>
<g><polygon points="798.03,1491.06 813.97,1507 798.03,1522.94 782.09,1507" fill="none" stroke="#3a903a" stroke-width="3.2" stroke-linejoin="miter"/><polygon points="844.77,1435.56 860.71,1451.5 844.77,1467.44 828.83,1451.5" fill="none" stroke="#3a903a" stroke-width="3.2" stroke-linejoin="miter"/><polygon points="891.51,1380.06 907.45,1396 891.51,1411.94 875.57,1396" fill="none" stroke="#3a903a" stroke-width="3.2" stroke-linejoin="miter"/><polygon points="961.62,1324.56 977.56,1340.5 961.62,1356.44 945.68,1340.5" fill="none" stroke="#3a903a" stroke-width="3.2" stroke-linejoin="miter"/><polygon points="1031.73,1269.06 1047.67,1285 1031.73,1300.94 1015.79,1285" fill="none" stroke="#3a903a" stroke-width="3.2" stroke-linejoin="miter"/><polygon points="1101.84,1213.56 1117.78,1229.5 1101.84,1245.44 1085.9,1229.5" fill="none" stroke="#3a903a" stroke-width="3.2" stroke-linejoin="miter"/><polygon points="1148.58,1158.06 1164.52,1174 1148.58,1189.94 1132.64,1174" fill="none" stroke="#3a903a" stroke-width="3.2" stroke-linejoin="miter"/><polygon points="1195.32,1102.56 1211.26,1118.5 1195.32,1134.44 1179.38,1118.5" fill="none" stroke="#3a903a" stroke-width="3.2" stroke-linejoin="miter"/><polygon points="1265.43,1047.06 1281.37,1063 1265.43,1078.94 1249.49,1063" fill="none" stroke="#3a903a" stroke-width="3.2" stroke-linejoin="miter"/><polygon points="1358.91,991.56 1374.85,1007.5 1358.91,1023.44 1342.97,1007.5" fill="none" stroke="#3a903a" stroke-width="3.2" stroke-linejoin="miter"/></g>
<g><polygon points="874.25,1507 900.31,1491.85 900.31,1522.15" fill="none" stroke="#9a3aff" stroke-width="3.2" stroke-linejoin="miter"/><polygon points="944.36,1451.5 970.42,1436.35 970.42,1466.65" fill="none" stroke="#9a3aff" stroke-width="3.2" stroke-linejoin="miter"/><polygon points="1014.47,1396 1040.53,1380.85 1040.53,1411.15" fill="none" stroke="#9a3aff" stroke-width="3.2" stroke-linejoin="miter"/><polygon points="1084.58,1340.5 1110.64,1325.35 1110.64,1355.65" fill="none" stroke="#9a3aff" stroke-width="3.2" stroke-linejoin="miter"/></g>
<text transform="translate(1856.5 170.3) scale(1 1.035)" font-size="63.5">Time (ms)</text>
<g font-size="57.5">
<path d="M1929 213.9 A11.8 11.8 0 0 0 1929 237.5 Z" fill="#c0c0c0"/><circle cx="1928" cy="225.7" r="10.7" fill="none" stroke="#c0c0c0" stroke-width="2.2"/>
<text transform="translate(2012 246.4) scale(1 1.035)">0.1</text>
<polygon points="1913.4,288 1942.6,288 1942.6,317.2 1913.4,317.2" fill="#ff0000"/>
<text transform="translate(2012 323.3) scale(1 1.035)">0.2</text>
<circle cx="1928" cy="379.5" r="13.3" fill="#0000ff"/>
<text transform="translate(2012 400.2) scale(1 1.035)">0.4</text>
<polygon points="1928,437.2 1945.5,467.2 1910.5,467.2" fill="#000000"/>
<text transform="translate(2012 477.1) scale(1 1.035)">0.6</text>
<polygon points="1928,553.3 1945.5,523.3 1910.5,523.3" fill="#ff8000"/>
<text transform="translate(2012 554) scale(1 1.035)">0.8</text>
<polygon points="1928,592.1 1946.1,610.2 1928,628.3 1909.9,610.2" fill="#007800"/>
<text transform="translate(2012 630.9) scale(1 1.035)">1.0</text>
<polygon points="1908,687.1 1938,669.6 1938,704.6" fill="#8000ff"/>
<text transform="translate(2012 707.8) scale(1 1.035)">1.2</text>
<polygon points="1948,764 1918,746.5 1918,781.5" fill="#808000"/>
<text transform="translate(2012 784.7) scale(1 1.035)">1.4</text>
<polygon points="1928,825.4 1941.42,833.15 1941.42,848.65 1928,856.4 1914.58,848.65 1914.58,833.15" fill="#80ffff"/>
<text transform="translate(2012 861.6) scale(1 1.035)">1.6</text>
<polygon points="1928,902.7 1931.9,913.93 1943.79,914.17 1934.32,921.35 1937.76,932.73 1928,925.94 1918.24,932.73 1921.68,921.35 1912.21,914.17 1924.1,913.93" fill="#ff80ff"/>
<text transform="translate(2012 938.5) scale(1 1.035)">1.8</text>
<polygon points="1928,979.7 1943.69,991.1 1937.7,1009.55 1918.3,1009.55 1912.31,991.1" fill="#00ff00"/>
<text transform="translate(2012 1015.4) scale(1 1.035)">2.0</text>
<polygon points="1916.25,1059.85 1939.75,1059.85 1939.75,1083.35 1916.25,1083.35" fill="none" stroke="#ff3535" stroke-width="2.9" stroke-linejoin="miter"/>
<text transform="translate(2012 1092.3) scale(1 1.035)">2.6</text>
<polygon points="1928,1132.35 1944.15,1148.5 1928,1164.65 1911.85,1148.5" fill="none" stroke="#3a3aff" stroke-width="2.9" stroke-linejoin="miter"/>
<text transform="translate(2012 1169.2) scale(1 1.035)">3.6</text>
<polygon points="1928,1208.64 1943.4,1235.15 1912.6,1235.15" fill="none" stroke="#3a3a3a" stroke-width="2.9" stroke-linejoin="miter"/>
<text transform="translate(2012 1246.1) scale(1 1.035)">5.6</text>
<polygon points="1928,1319.86 1943.4,1293.35 1912.6,1293.35" fill="none" stroke="#ff8833" stroke-width="2.9" stroke-linejoin="miter"/>
<text transform="translate(2012 1323) scale(1 1.035)">7.6</text>
<polygon points="1928,1363.05 1944.15,1379.2 1928,1395.35 1911.85,1379.2" fill="none" stroke="#3a903a" stroke-width="2.9" stroke-linejoin="miter"/>
<text transform="translate(2012 1399.9) scale(1 1.035)">9.6</text>
<polygon points="1910.44,1456.1 1936.95,1440.7 1936.95,1471.5" fill="none" stroke="#9a3aff" stroke-width="2.9" stroke-linejoin="miter"/>
<text transform="translate(2012 1476.8) scale(1 1.035)">11.6</text>
</g>
</g></svg></body></html>
